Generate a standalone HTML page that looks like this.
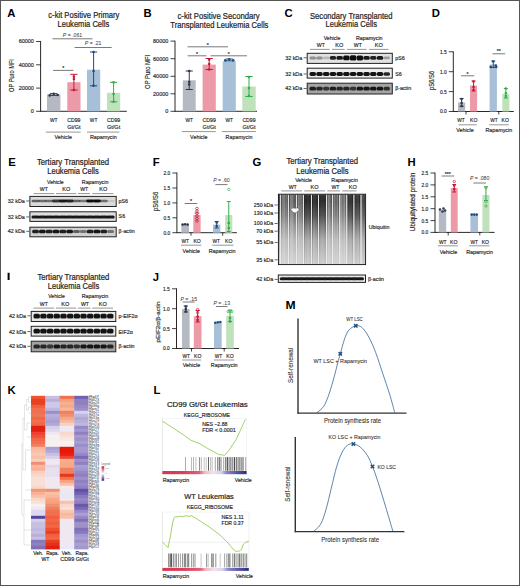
<!DOCTYPE html>
<html><head><meta charset="utf-8"><style>
html,body{margin:0;padding:0;background:#fff;}
body{width:520px;height:586px;overflow:hidden;}
svg{display:block;font-family:"Liberation Sans", sans-serif;}
</style></head><body>
<svg width="520" height="586" viewBox="0 0 520 586">
<defs>
<filter id="bl" x="-20%" y="-50%" width="140%" height="200%"><feGaussianBlur stdDeviation="0.55"/></filter>
<filter id="bl2" x="-20%" y="-5%" width="140%" height="110%"><feGaussianBlur stdDeviation="0.6"/></filter>
<linearGradient id="ubg" x1="0" y1="0" x2="0" y2="1"><stop offset="0" stop-color="#c4c4c4"/><stop offset="0.45" stop-color="#d6d6d6"/><stop offset="1" stop-color="#e0e0e0"/></linearGradient>
<linearGradient id="ulane" x1="0" y1="0" x2="0" y2="1"><stop offset="0" stop-color="#202020" stop-opacity="0.85"/><stop offset="0.1" stop-color="#202020" stop-opacity="0.9"/><stop offset="0.3" stop-color="#383838" stop-opacity="0.8"/><stop offset="0.45" stop-color="#505050" stop-opacity="0.63"/><stop offset="0.65" stop-color="#606060" stop-opacity="0.34"/><stop offset="1" stop-color="#808080" stop-opacity="0.17"/></linearGradient>
<linearGradient id="cbar" x1="0" y1="0" x2="1" y2="0"><stop offset="0" stop-color="#d43650"/><stop offset="0.25" stop-color="#d9405c"/><stop offset="0.44" stop-color="#e0607a"/><stop offset="0.5" stop-color="#f2b4c6"/><stop offset="0.6" stop-color="#eee4ee"/><stop offset="0.7" stop-color="#d4d0e8"/><stop offset="0.76" stop-color="#8c86c6"/><stop offset="0.88" stop-color="#5a56a8"/><stop offset="1" stop-color="#2c2c7c"/></linearGradient>
<linearGradient id="leg" x1="0" y1="0" x2="0" y2="1"><stop offset="0" stop-color="#c8102e"/><stop offset="0.5" stop-color="#ffffff"/><stop offset="1" stop-color="#3a1e78"/></linearGradient>
</defs>
<rect x="0" y="0" width="520" height="586" fill="#fff"/>
<text x="7.2" y="16.8" font-size="11.3" font-weight="bold" fill="#000">A</text>
<text x="83.85" y="18.4" font-size="8.3" stroke="#262626" stroke-width="0.22" text-anchor="middle" fill="#262626" textLength="71.1" lengthAdjust="spacingAndGlyphs">c-kit Positive Primary</text>
<text x="83.35" y="27.1" font-size="8.3" stroke="#262626" stroke-width="0.22" text-anchor="middle" fill="#262626" textLength="51.7" lengthAdjust="spacingAndGlyphs">Leukemia Cells</text>
<line x1="40.6" y1="41.1" x2="40.6" y2="111.7" stroke="#111" stroke-width="0.9"/>
<line x1="36.1" y1="41.5" x2="40.6" y2="41.5" stroke="#111" stroke-width="0.8"/>
<text x="33.9" y="43.44" font-size="5.4" stroke="#262626" stroke-width="0.16" text-anchor="end" fill="#262626" textLength="15.25" lengthAdjust="spacingAndGlyphs">60000</text>
<line x1="36.1" y1="64.8" x2="40.6" y2="64.8" stroke="#111" stroke-width="0.8"/>
<text x="33.9" y="66.74" font-size="5.4" stroke="#262626" stroke-width="0.16" text-anchor="end" fill="#262626" textLength="15.25" lengthAdjust="spacingAndGlyphs">40000</text>
<line x1="36.1" y1="88.1" x2="40.6" y2="88.1" stroke="#111" stroke-width="0.8"/>
<text x="33.9" y="90.04" font-size="5.4" stroke="#262626" stroke-width="0.16" text-anchor="end" fill="#262626" textLength="15.25" lengthAdjust="spacingAndGlyphs">20000</text>
<line x1="36.1" y1="111.3" x2="40.6" y2="111.3" stroke="#111" stroke-width="0.8"/>
<text x="33.9" y="113.24" font-size="5.4" stroke="#262626" stroke-width="0.16" text-anchor="end" fill="#262626" textLength="3.05" lengthAdjust="spacingAndGlyphs">0</text>
<line x1="40.6" y1="111.3" x2="126.8" y2="111.3" stroke="#111" stroke-width="0.9"/>
<text x="14" y="75.5" font-size="7.9" stroke="#262626" stroke-width="0.16" text-anchor="middle" fill="#262626" textLength="32.8" lengthAdjust="spacingAndGlyphs" transform="rotate(-90 14 75.5)">OP Puro MFI</text>
<rect x="47" y="94.4" width="13.4" height="16.9" fill="#b5bac2" />
<rect x="67.3" y="82.2" width="13.2" height="29.1" fill="#ec9aa8" />
<rect x="87" y="69.7" width="13.2" height="41.6" fill="#a7bfd7" />
<rect x="107" y="92.8" width="13.2" height="18.5" fill="#bfe1bb" />
<line x1="53.7" y1="93.6" x2="53.7" y2="95.4" stroke="#2f3b4d" stroke-width="1"/>
<line x1="50.02" y1="93.6" x2="57.39" y2="93.6" stroke="#2f3b4d" stroke-width="1"/>
<line x1="50.02" y1="95.4" x2="57.39" y2="95.4" stroke="#2f3b4d" stroke-width="1"/>
<circle cx="49.7" cy="95.4" r="1.3" fill="#2f3b4d"/>
<circle cx="53.7" cy="93.8" r="1.3" fill="#2f3b4d"/>
<circle cx="57.7" cy="95" r="1.3" fill="#2f3b4d"/>
<line x1="73.9" y1="74.3" x2="73.9" y2="90" stroke="#c6173a" stroke-width="1"/>
<line x1="70.27" y1="74.3" x2="77.53" y2="74.3" stroke="#c6173a" stroke-width="1"/>
<line x1="70.27" y1="90" x2="77.53" y2="90" stroke="#c6173a" stroke-width="1"/>
<circle cx="73.9" cy="76.5" r="1.3" fill="#c6173a"/>
<circle cx="73.9" cy="79" r="1.3" fill="#c6173a"/>
<circle cx="73.9" cy="90" r="1.3" fill="#c6173a"/>
<line x1="93.6" y1="52" x2="93.6" y2="85.8" stroke="#1e4e80" stroke-width="1"/>
<line x1="89.97" y1="52" x2="97.23" y2="52" stroke="#1e4e80" stroke-width="1"/>
<line x1="89.97" y1="85.8" x2="97.23" y2="85.8" stroke="#1e4e80" stroke-width="1"/>
<circle cx="93.6" cy="52" r="1.3" fill="#1e4e80"/>
<circle cx="93.6" cy="71" r="1.3" fill="#1e4e80"/>
<circle cx="93.6" cy="85.8" r="1.3" fill="#1e4e80"/>
<line x1="113.6" y1="82.3" x2="113.6" y2="101.8" stroke="#33ad4c" stroke-width="1"/>
<line x1="109.97" y1="82.3" x2="117.23" y2="82.3" stroke="#33ad4c" stroke-width="1"/>
<line x1="109.97" y1="101.8" x2="117.23" y2="101.8" stroke="#33ad4c" stroke-width="1"/>
<circle cx="113.6" cy="82.3" r="1.3" fill="#33ad4c"/>
<circle cx="113.6" cy="94" r="1.3" fill="#33ad4c"/>
<circle cx="113.6" cy="101.8" r="1.3" fill="#33ad4c"/>
<line x1="52.5" y1="38.8" x2="92.5" y2="38.8" stroke="#6b6b6b" stroke-width="0.9"/>
<text x="72.5" y="36.6" font-size="5.2" text-anchor="middle" fill="#333"><tspan font-style="italic">P</tspan> = .061</text>
<line x1="74.6" y1="47.5" x2="111.7" y2="47.5" stroke="#6b6b6b" stroke-width="0.9"/>
<text x="93.15" y="44.6" font-size="5.2" text-anchor="middle" fill="#333"><tspan font-style="italic">P</tspan> = .21</text>
<line x1="53" y1="70.4" x2="73.5" y2="70.4" stroke="#6b6b6b" stroke-width="0.9"/>
<text x="63.25" y="69.8" font-size="5.2" stroke="#262626" stroke-width="0.16" text-anchor="middle" fill="#262626">*</text>
<text x="53.7" y="122.3" font-size="5.6" stroke="#262626" stroke-width="0.16" text-anchor="middle" fill="#262626" textLength="7.5" lengthAdjust="spacingAndGlyphs">WT</text>
<text x="73.9" y="122.3" font-size="5.6" stroke="#262626" stroke-width="0.16" text-anchor="middle" fill="#262626" textLength="13.2" lengthAdjust="spacingAndGlyphs">CD99</text>
<text x="73.9" y="129.2" font-size="5.6" stroke="#262626" stroke-width="0.16" text-anchor="middle" fill="#262626" textLength="13.2" lengthAdjust="spacingAndGlyphs">Gt/Gt</text>
<text x="93.6" y="122.3" font-size="5.6" stroke="#262626" stroke-width="0.16" text-anchor="middle" fill="#262626" textLength="7.5" lengthAdjust="spacingAndGlyphs">WT</text>
<text x="113.6" y="122.3" font-size="5.6" stroke="#262626" stroke-width="0.16" text-anchor="middle" fill="#262626" textLength="13.2" lengthAdjust="spacingAndGlyphs">CD99</text>
<text x="113.6" y="129.2" font-size="5.6" stroke="#262626" stroke-width="0.16" text-anchor="middle" fill="#262626" textLength="13.2" lengthAdjust="spacingAndGlyphs">Gt/Gt</text>
<line x1="45.8" y1="132.1" x2="80.7" y2="132.1" stroke="#8a8a8a" stroke-width="0.9"/>
<line x1="87" y1="132.1" x2="119.3" y2="132.1" stroke="#8a8a8a" stroke-width="0.9"/>
<text x="63.2" y="138.5" font-size="5.6" stroke="#262626" stroke-width="0.16" text-anchor="middle" fill="#262626" textLength="17.4" lengthAdjust="spacingAndGlyphs">Vehicle</text>
<text x="103.3" y="138.5" font-size="5.6" stroke="#262626" stroke-width="0.16" text-anchor="middle" fill="#262626" textLength="26.8" lengthAdjust="spacingAndGlyphs">Rapamycin</text>
<text x="143.6" y="16.9" font-size="11.3" font-weight="bold" fill="#000">B</text>
<text x="218.6" y="19.2" font-size="8.3" stroke="#262626" stroke-width="0.22" text-anchor="middle" fill="#262626" textLength="82.2" lengthAdjust="spacingAndGlyphs">c-kit Positive Secondary</text>
<text x="219.35" y="27.9" font-size="8.3" stroke="#262626" stroke-width="0.22" text-anchor="middle" fill="#262626" textLength="98.1" lengthAdjust="spacingAndGlyphs">Transplanted Leukemia Cells</text>
<line x1="175" y1="40.7" x2="175" y2="111.7" stroke="#111" stroke-width="0.9"/>
<line x1="170.5" y1="41.1" x2="175" y2="41.1" stroke="#111" stroke-width="0.8"/>
<text x="168.3" y="43.04" font-size="5.4" stroke="#262626" stroke-width="0.16" text-anchor="end" fill="#262626" textLength="15.25" lengthAdjust="spacingAndGlyphs">80000</text>
<line x1="170.5" y1="58.7" x2="175" y2="58.7" stroke="#111" stroke-width="0.8"/>
<text x="168.3" y="60.64" font-size="5.4" stroke="#262626" stroke-width="0.16" text-anchor="end" fill="#262626" textLength="15.25" lengthAdjust="spacingAndGlyphs">60000</text>
<line x1="170.5" y1="76.3" x2="175" y2="76.3" stroke="#111" stroke-width="0.8"/>
<text x="168.3" y="78.24" font-size="5.4" stroke="#262626" stroke-width="0.16" text-anchor="end" fill="#262626" textLength="15.25" lengthAdjust="spacingAndGlyphs">40000</text>
<line x1="170.5" y1="93.8" x2="175" y2="93.8" stroke="#111" stroke-width="0.8"/>
<text x="168.3" y="95.74" font-size="5.4" stroke="#262626" stroke-width="0.16" text-anchor="end" fill="#262626" textLength="15.25" lengthAdjust="spacingAndGlyphs">20000</text>
<line x1="170.5" y1="111.3" x2="175" y2="111.3" stroke="#111" stroke-width="0.8"/>
<text x="168.3" y="113.24" font-size="5.4" stroke="#262626" stroke-width="0.16" text-anchor="end" fill="#262626" textLength="3.05" lengthAdjust="spacingAndGlyphs">0</text>
<line x1="175" y1="111.3" x2="257" y2="111.3" stroke="#111" stroke-width="0.9"/>
<text x="149.8" y="71.9" font-size="8" stroke="#262626" stroke-width="0.16" text-anchor="middle" fill="#262626" textLength="34" lengthAdjust="spacingAndGlyphs" transform="rotate(-90 149.8 71.9)">OP Puro MFI</text>
<rect x="182.8" y="80.3" width="12.9" height="31" fill="#b5bac2" />
<rect x="202.6" y="64.6" width="13.2" height="46.7" fill="#ec9aa8" />
<rect x="222.7" y="61.2" width="13.1" height="50.1" fill="#a7bfd7" />
<rect x="242.3" y="86.5" width="13.4" height="24.8" fill="#bfe1bb" />
<line x1="189.25" y1="71" x2="189.25" y2="89.5" stroke="#2f3b4d" stroke-width="1"/>
<line x1="185.7" y1="71" x2="192.8" y2="71" stroke="#2f3b4d" stroke-width="1"/>
<line x1="185.7" y1="89.5" x2="192.8" y2="89.5" stroke="#2f3b4d" stroke-width="1"/>
<circle cx="189.25" cy="71" r="1.3" fill="#2f3b4d"/>
<circle cx="189.25" cy="84.5" r="1.3" fill="#2f3b4d"/>
<circle cx="189.25" cy="82" r="1.3" fill="#2f3b4d"/>
<line x1="209.2" y1="58.5" x2="209.2" y2="69.5" stroke="#c6173a" stroke-width="1"/>
<line x1="205.57" y1="58.5" x2="212.83" y2="58.5" stroke="#c6173a" stroke-width="1"/>
<line x1="205.57" y1="69.5" x2="212.83" y2="69.5" stroke="#c6173a" stroke-width="1"/>
<circle cx="209.2" cy="59.5" r="1.3" fill="#c6173a"/>
<circle cx="209.2" cy="64" r="1.3" fill="#c6173a"/>
<circle cx="209.2" cy="69.5" r="1.3" fill="#c6173a"/>
<line x1="229.25" y1="59" x2="229.25" y2="60.8" stroke="#1e4e80" stroke-width="1"/>
<line x1="225.65" y1="59" x2="232.85" y2="59" stroke="#1e4e80" stroke-width="1"/>
<line x1="225.65" y1="60.8" x2="232.85" y2="60.8" stroke="#1e4e80" stroke-width="1"/>
<circle cx="225.25" cy="60.4" r="1.3" fill="#1e4e80"/>
<circle cx="229.25" cy="59.2" r="1.3" fill="#1e4e80"/>
<circle cx="233.25" cy="60.4" r="1.3" fill="#1e4e80"/>
<line x1="249" y1="76.5" x2="249" y2="96.5" stroke="#33ad4c" stroke-width="1"/>
<line x1="245.31" y1="76.5" x2="252.69" y2="76.5" stroke="#33ad4c" stroke-width="1"/>
<line x1="245.31" y1="96.5" x2="252.69" y2="96.5" stroke="#33ad4c" stroke-width="1"/>
<circle cx="249" cy="77" r="1.3" fill="#33ad4c"/>
<circle cx="249" cy="88" r="1.3" fill="#33ad4c"/>
<circle cx="249" cy="96" r="1.3" fill="#33ad4c"/>
<line x1="187.6" y1="46.8" x2="228" y2="46.8" stroke="#6b6b6b" stroke-width="0.9"/>
<text x="207.8" y="46.6" font-size="5.2" stroke="#262626" stroke-width="0.16" text-anchor="middle" fill="#262626">*</text>
<line x1="187.6" y1="55.8" x2="206.5" y2="55.8" stroke="#6b6b6b" stroke-width="0.9"/>
<text x="197.05" y="55.6" font-size="5.2" stroke="#262626" stroke-width="0.16" text-anchor="middle" fill="#262626">*</text>
<line x1="210.5" y1="55.8" x2="247" y2="55.8" stroke="#6b6b6b" stroke-width="0.9"/>
<text x="228.75" y="55.6" font-size="5.2" stroke="#262626" stroke-width="0.16" text-anchor="middle" fill="#262626">*</text>
<text x="189.3" y="122.3" font-size="5.6" stroke="#262626" stroke-width="0.16" text-anchor="middle" fill="#262626" textLength="7.5" lengthAdjust="spacingAndGlyphs">WT</text>
<text x="209.2" y="122.3" font-size="5.6" stroke="#262626" stroke-width="0.16" text-anchor="middle" fill="#262626" textLength="13.2" lengthAdjust="spacingAndGlyphs">CD99</text>
<text x="209.2" y="129.2" font-size="5.6" stroke="#262626" stroke-width="0.16" text-anchor="middle" fill="#262626" textLength="13.2" lengthAdjust="spacingAndGlyphs">Gt/Gt</text>
<text x="229.3" y="122.3" font-size="5.6" stroke="#262626" stroke-width="0.16" text-anchor="middle" fill="#262626" textLength="7.5" lengthAdjust="spacingAndGlyphs">WT</text>
<text x="249" y="122.3" font-size="5.6" stroke="#262626" stroke-width="0.16" text-anchor="middle" fill="#262626" textLength="13.2" lengthAdjust="spacingAndGlyphs">CD99</text>
<text x="249" y="129.2" font-size="5.6" stroke="#262626" stroke-width="0.16" text-anchor="middle" fill="#262626" textLength="13.2" lengthAdjust="spacingAndGlyphs">Gt/Gt</text>
<line x1="181.8" y1="131.6" x2="215.8" y2="131.6" stroke="#8a8a8a" stroke-width="0.9"/>
<line x1="222" y1="131.6" x2="256" y2="131.6" stroke="#8a8a8a" stroke-width="0.9"/>
<text x="198.8" y="138.6" font-size="5.6" stroke="#262626" stroke-width="0.16" text-anchor="middle" fill="#262626" textLength="17.4" lengthAdjust="spacingAndGlyphs">Vehicle</text>
<text x="239" y="138.6" font-size="5.6" stroke="#262626" stroke-width="0.16" text-anchor="middle" fill="#262626" textLength="26.8" lengthAdjust="spacingAndGlyphs">Rapamycin</text>
<text x="284.4" y="16.6" font-size="11.3" font-weight="bold" fill="#000">C</text>
<text x="351.3" y="19.2" font-size="8.3" stroke="#262626" stroke-width="0.22" text-anchor="middle" fill="#262626" textLength="82.6" lengthAdjust="spacingAndGlyphs">Secondary Transplanted</text>
<text x="351.25" y="27.2" font-size="8.3" stroke="#262626" stroke-width="0.22" text-anchor="middle" fill="#262626" textLength="51.5" lengthAdjust="spacingAndGlyphs">Leukemia Cells</text>
<text x="332" y="40.3" font-size="5.3" stroke="#262626" stroke-width="0.16" text-anchor="middle" fill="#262626" textLength="16.7" lengthAdjust="spacingAndGlyphs">Vehicle</text>
<text x="369.3" y="40.3" font-size="5.3" stroke="#262626" stroke-width="0.16" text-anchor="middle" fill="#262626" textLength="26.5" lengthAdjust="spacingAndGlyphs">Rapamycin</text>
<text x="320.8" y="47.4" font-size="5.3" stroke="#262626" stroke-width="0.16" text-anchor="middle" fill="#262626" textLength="8" lengthAdjust="spacingAndGlyphs">WT</text>
<text x="339.3" y="47.4" font-size="5.3" stroke="#262626" stroke-width="0.16" text-anchor="middle" fill="#262626" textLength="8" lengthAdjust="spacingAndGlyphs">KO</text>
<text x="357.8" y="47.4" font-size="5.3" stroke="#262626" stroke-width="0.16" text-anchor="middle" fill="#262626" textLength="8" lengthAdjust="spacingAndGlyphs">WT</text>
<text x="378.8" y="47.4" font-size="5.3" stroke="#262626" stroke-width="0.16" text-anchor="middle" fill="#262626" textLength="8" lengthAdjust="spacingAndGlyphs">KO</text>
<line x1="310" y1="49.4" x2="329.6" y2="49.4" stroke="#8a8a8a" stroke-width="0.9"/>
<line x1="332" y1="49.4" x2="344.6" y2="49.4" stroke="#8a8a8a" stroke-width="0.9"/>
<line x1="347" y1="49.4" x2="366.5" y2="49.4" stroke="#8a8a8a" stroke-width="0.9"/>
<line x1="369" y1="49.4" x2="388.5" y2="49.4" stroke="#8a8a8a" stroke-width="0.9"/>
<rect x="307.2" y="53.3" width="85.1" height="10.1" fill="#e2e2e2" />
<g filter="url(#bl)">
<rect x="309.53" y="56.39" width="6.46" height="3.03" rx="1.51" fill="#111" opacity="0.4"/>
<rect x="316.26" y="56.39" width="6.46" height="3.03" rx="1.51" fill="#111" opacity="0.4"/>
<rect x="322.98" y="56.52" width="6.46" height="2.76" rx="1.38" fill="#111" opacity="0.18"/>
<rect x="329.71" y="56.09" width="6.46" height="3.62" rx="1.6" fill="#111" opacity="0.9"/>
<rect x="336.43" y="56.06" width="6.46" height="3.68" rx="1.6" fill="#111" opacity="0.95"/>
<rect x="343.16" y="55.56" width="6.46" height="4.68" rx="1.6" fill="#111" opacity="1"/>
<rect x="349.88" y="55.28" width="6.46" height="5.24" rx="1.6" fill="#111" opacity="1"/>
<rect x="356.61" y="55.38" width="6.46" height="5.05" rx="1.6" fill="#111" opacity="1"/>
<rect x="363.33" y="56.06" width="6.46" height="3.68" rx="1.6" fill="#111" opacity="0.95"/>
<rect x="370.06" y="56.09" width="6.46" height="3.62" rx="1.6" fill="#111" opacity="0.9"/>
<rect x="376.78" y="56.06" width="6.46" height="3.68" rx="1.6" fill="#111" opacity="0.95"/>
<rect x="383.51" y="56.45" width="6.46" height="2.91" rx="1.45" fill="#111" opacity="0.3"/>
</g>
<rect x="307.2" y="53.3" width="85.1" height="10.1" fill="none" stroke="#222" stroke-width="1" />
<rect x="307.2" y="68.2" width="85.1" height="9.9" fill="#ececec" />
<g filter="url(#bl)">
<rect x="309.53" y="72.09" width="6.46" height="3.81" rx="1.6" fill="#111" opacity="0.97"/>
<rect x="316.26" y="72.09" width="6.46" height="3.81" rx="1.6" fill="#111" opacity="0.97"/>
<rect x="322.98" y="72.09" width="6.46" height="3.81" rx="1.6" fill="#111" opacity="0.97"/>
<rect x="329.71" y="72.09" width="6.46" height="3.81" rx="1.6" fill="#111" opacity="0.97"/>
<rect x="336.43" y="72.09" width="6.46" height="3.81" rx="1.6" fill="#111" opacity="0.97"/>
<rect x="343.16" y="72.09" width="6.46" height="3.81" rx="1.6" fill="#111" opacity="0.97"/>
<rect x="349.88" y="72.09" width="6.46" height="3.81" rx="1.6" fill="#111" opacity="0.97"/>
<rect x="356.61" y="72.09" width="6.46" height="3.81" rx="1.6" fill="#111" opacity="0.97"/>
<rect x="363.33" y="72.09" width="6.46" height="3.81" rx="1.6" fill="#111" opacity="0.97"/>
<rect x="370.06" y="72.09" width="6.46" height="3.81" rx="1.6" fill="#111" opacity="0.97"/>
<rect x="376.78" y="72.09" width="6.46" height="3.81" rx="1.6" fill="#111" opacity="0.97"/>
<rect x="383.51" y="72.14" width="6.46" height="3.73" rx="1.6" fill="#111" opacity="0.9"/>
</g>
<rect x="307.2" y="68.2" width="85.1" height="9.9" fill="none" stroke="#222" stroke-width="1" />
<rect x="307.2" y="83.2" width="85.1" height="10.8" fill="#a4a4a4" />
<g filter="url(#bl)">
<rect x="309.53" y="86.68" width="6.46" height="3.83" rx="1.6" fill="#111" opacity="0.9"/>
<rect x="316.26" y="86.71" width="6.46" height="3.77" rx="1.6" fill="#111" opacity="0.85"/>
<rect x="322.98" y="86.78" width="6.46" height="3.65" rx="1.6" fill="#111" opacity="0.75"/>
<rect x="329.71" y="86.68" width="6.46" height="3.83" rx="1.6" fill="#111" opacity="0.9"/>
<rect x="336.43" y="86.71" width="6.46" height="3.77" rx="1.6" fill="#111" opacity="0.85"/>
<rect x="343.16" y="86.71" width="6.46" height="3.77" rx="1.6" fill="#111" opacity="0.85"/>
<rect x="349.88" y="86.78" width="6.46" height="3.65" rx="1.6" fill="#111" opacity="0.75"/>
<rect x="356.61" y="86.65" width="6.46" height="3.9" rx="1.6" fill="#111" opacity="0.95"/>
<rect x="363.33" y="86.65" width="6.46" height="3.9" rx="1.6" fill="#111" opacity="0.95"/>
<rect x="370.06" y="86.65" width="6.46" height="3.9" rx="1.6" fill="#111" opacity="0.95"/>
<rect x="376.78" y="86.65" width="6.46" height="3.9" rx="1.6" fill="#111" opacity="0.95"/>
<rect x="383.51" y="86.75" width="6.46" height="3.71" rx="1.6" fill="#111" opacity="0.8"/>
</g>
<rect x="307.2" y="83.2" width="85.1" height="10.8" fill="none" stroke="#222" stroke-width="1" />
<text x="302.2" y="59.71" font-size="5.3" stroke="#262626" stroke-width="0.16" text-anchor="end" fill="#262626" textLength="17" lengthAdjust="spacingAndGlyphs">32 kDa</text>
<line x1="303.6" y1="57.8" x2="306.7" y2="57.8" stroke="#333" stroke-width="0.75"/>
<text x="302.2" y="75.91" font-size="5.3" stroke="#262626" stroke-width="0.16" text-anchor="end" fill="#262626" textLength="17" lengthAdjust="spacingAndGlyphs">32 kDa</text>
<line x1="303.6" y1="74" x2="306.7" y2="74" stroke="#333" stroke-width="0.75"/>
<text x="302.2" y="90.41" font-size="5.3" stroke="#262626" stroke-width="0.16" text-anchor="end" fill="#262626" textLength="17" lengthAdjust="spacingAndGlyphs">42 kDa</text>
<line x1="303.6" y1="88.5" x2="306.7" y2="88.5" stroke="#333" stroke-width="0.75"/>
<text x="395.2" y="59.8" font-size="5.3" stroke="#262626" stroke-width="0.16" fill="#262626">pS6</text>
<text x="395.2" y="75.9" font-size="5.3" stroke="#262626" stroke-width="0.16" fill="#262626">S6</text>
<text x="395.2" y="90.4" font-size="5.3" stroke="#262626" stroke-width="0.16" fill="#262626">β-actin</text>
<text x="431.8" y="16.9" font-size="11.3" font-weight="bold" fill="#000">D</text>
<line x1="453.3" y1="51.4" x2="453.3" y2="111.9" stroke="#111" stroke-width="0.9"/>
<line x1="448.8" y1="51.8" x2="453.3" y2="51.8" stroke="#111" stroke-width="0.8"/>
<text x="446.6" y="53.74" font-size="5.4" stroke="#262626" stroke-width="0.16" text-anchor="end" fill="#262626" textLength="6.7" lengthAdjust="spacingAndGlyphs">1.5</text>
<line x1="448.8" y1="71.7" x2="453.3" y2="71.7" stroke="#111" stroke-width="0.8"/>
<text x="446.6" y="73.64" font-size="5.4" stroke="#262626" stroke-width="0.16" text-anchor="end" fill="#262626" textLength="6.7" lengthAdjust="spacingAndGlyphs">1.0</text>
<line x1="448.8" y1="91.6" x2="453.3" y2="91.6" stroke="#111" stroke-width="0.8"/>
<text x="446.6" y="93.54" font-size="5.4" stroke="#262626" stroke-width="0.16" text-anchor="end" fill="#262626" textLength="6.7" lengthAdjust="spacingAndGlyphs">0.5</text>
<line x1="448.8" y1="111.5" x2="453.3" y2="111.5" stroke="#111" stroke-width="0.8"/>
<text x="446.6" y="113.44" font-size="5.4" stroke="#262626" stroke-width="0.16" text-anchor="end" fill="#262626" textLength="6.7" lengthAdjust="spacingAndGlyphs">0.0</text>
<line x1="453.3" y1="111.5" x2="513.8" y2="111.5" stroke="#111" stroke-width="0.9"/>
<line x1="466" y1="111.5" x2="466" y2="114.5" stroke="#111" stroke-width="0.8"/>
<line x1="498.8" y1="111.5" x2="498.8" y2="114.5" stroke="#111" stroke-width="0.8"/>
<text x="434.1" y="80.5" font-size="7.4" stroke="#262626" stroke-width="0.16" text-anchor="middle" fill="#262626" textLength="19.2" lengthAdjust="spacingAndGlyphs" transform="rotate(-90 434.1 80.5)">pS6/S6</text>
<rect x="458" y="102.5" width="7.2" height="9" fill="#b5bac2" />
<rect x="470" y="85.6" width="7.1" height="25.9" fill="#ec9aa8" />
<rect x="489.6" y="64.4" width="7.3" height="47.1" fill="#a7bfd7" />
<rect x="502.3" y="93.8" width="7.1" height="17.7" fill="#bfe1bb" />
<line x1="461.6" y1="98.5" x2="461.6" y2="106.5" stroke="#2f3b4d" stroke-width="1"/>
<line x1="459.62" y1="98.5" x2="463.58" y2="98.5" stroke="#2f3b4d" stroke-width="1"/>
<line x1="459.62" y1="106.5" x2="463.58" y2="106.5" stroke="#2f3b4d" stroke-width="1"/>
<circle cx="461.6" cy="99" r="1.3" fill="#2f3b4d"/>
<circle cx="461.6" cy="103" r="1.3" fill="#2f3b4d"/>
<circle cx="461.6" cy="106" r="1.3" fill="#2f3b4d"/>
<line x1="473.55" y1="81" x2="473.55" y2="91" stroke="#c6173a" stroke-width="1"/>
<line x1="471.6" y1="81" x2="475.5" y2="81" stroke="#c6173a" stroke-width="1"/>
<line x1="471.6" y1="91" x2="475.5" y2="91" stroke="#c6173a" stroke-width="1"/>
<circle cx="473.55" cy="81.5" r="1.3" fill="#c6173a"/>
<circle cx="473.55" cy="87" r="1.3" fill="#c6173a"/>
<circle cx="473.55" cy="90" r="1.3" fill="#c6173a"/>
<line x1="493.25" y1="61" x2="493.25" y2="67.5" stroke="#1e4e80" stroke-width="1"/>
<line x1="491.24" y1="61" x2="495.26" y2="61" stroke="#1e4e80" stroke-width="1"/>
<line x1="491.24" y1="67.5" x2="495.26" y2="67.5" stroke="#1e4e80" stroke-width="1"/>
<circle cx="490.75" cy="67" r="1.3" fill="#1e4e80"/>
<circle cx="493.25" cy="61.5" r="1.3" fill="#1e4e80"/>
<circle cx="495.75" cy="65.5" r="1.3" fill="#1e4e80"/>
<circle cx="496.25" cy="67" r="1.3" fill="#1e4e80"/>
<line x1="505.85" y1="88.5" x2="505.85" y2="98" stroke="#33ad4c" stroke-width="1"/>
<line x1="503.9" y1="88.5" x2="507.8" y2="88.5" stroke="#33ad4c" stroke-width="1"/>
<line x1="503.9" y1="98" x2="507.8" y2="98" stroke="#33ad4c" stroke-width="1"/>
<circle cx="505.85" cy="88.5" r="1.3" fill="#33ad4c"/>
<circle cx="505.85" cy="93" r="1.3" fill="#33ad4c"/>
<circle cx="505.85" cy="96" r="1.3" fill="#33ad4c"/>
<line x1="461" y1="75.8" x2="474.2" y2="75.8" stroke="#6b6b6b" stroke-width="0.9"/>
<text x="467.6" y="75.5" font-size="5.2" stroke="#262626" stroke-width="0.16" text-anchor="middle" fill="#262626">*</text>
<line x1="492.5" y1="53.8" x2="505.2" y2="53.8" stroke="#6b6b6b" stroke-width="0.9"/>
<text x="498.85" y="53.3" font-size="5.2" stroke="#262626" stroke-width="0.16" text-anchor="middle" fill="#262626">**</text>
<text x="461" y="122.4" font-size="5.8" stroke="#262626" stroke-width="0.16" text-anchor="middle" fill="#262626" textLength="7.5" lengthAdjust="spacingAndGlyphs">WT</text>
<text x="473.8" y="122.4" font-size="5.8" stroke="#262626" stroke-width="0.16" text-anchor="middle" fill="#262626" textLength="7.4" lengthAdjust="spacingAndGlyphs">KO</text>
<text x="494" y="122.4" font-size="5.8" stroke="#262626" stroke-width="0.16" text-anchor="middle" fill="#262626" textLength="7.5" lengthAdjust="spacingAndGlyphs">WT</text>
<text x="505.2" y="122.4" font-size="5.8" stroke="#262626" stroke-width="0.16" text-anchor="middle" fill="#262626" textLength="7.4" lengthAdjust="spacingAndGlyphs">KO</text>
<line x1="458.5" y1="124.8" x2="476.7" y2="124.8" stroke="#8a8a8a" stroke-width="0.9"/>
<line x1="489.2" y1="124.8" x2="508.8" y2="124.8" stroke="#8a8a8a" stroke-width="0.9"/>
<text x="465" y="131.8" font-size="5.6" stroke="#262626" stroke-width="0.16" text-anchor="middle" fill="#262626" textLength="17.4" lengthAdjust="spacingAndGlyphs">Vehicle</text>
<text x="498.8" y="131.8" font-size="5.6" stroke="#262626" stroke-width="0.16" text-anchor="middle" fill="#262626" textLength="26.8" lengthAdjust="spacingAndGlyphs">Rapamycin</text>
<text x="8.3" y="165.8" font-size="11.3" font-weight="bold" fill="#000">E</text>
<text x="72.95" y="164.6" font-size="8.3" stroke="#262626" stroke-width="0.22" text-anchor="middle" fill="#262626" textLength="72.1" lengthAdjust="spacingAndGlyphs">Tertiary Transplanted</text>
<text x="73.05" y="173.6" font-size="8.3" stroke="#262626" stroke-width="0.22" text-anchor="middle" fill="#262626" textLength="51.5" lengthAdjust="spacingAndGlyphs">Leukemia Cells</text>
<text x="55.4" y="183.9" font-size="5.3" stroke="#262626" stroke-width="0.16" text-anchor="middle" fill="#262626" textLength="16.7" lengthAdjust="spacingAndGlyphs">Vehicle</text>
<text x="95.1" y="183.9" font-size="5.3" stroke="#262626" stroke-width="0.16" text-anchor="middle" fill="#262626" textLength="26.5" lengthAdjust="spacingAndGlyphs">Rapamycin</text>
<text x="43.8" y="191.3" font-size="5.3" stroke="#262626" stroke-width="0.16" text-anchor="middle" fill="#262626" textLength="8" lengthAdjust="spacingAndGlyphs">WT</text>
<text x="66.2" y="191.3" font-size="5.3" stroke="#262626" stroke-width="0.16" text-anchor="middle" fill="#262626" textLength="8" lengthAdjust="spacingAndGlyphs">KO</text>
<text x="84.2" y="191.3" font-size="5.3" stroke="#262626" stroke-width="0.16" text-anchor="middle" fill="#262626" textLength="8" lengthAdjust="spacingAndGlyphs">WT</text>
<text x="103.2" y="191.3" font-size="5.3" stroke="#262626" stroke-width="0.16" text-anchor="middle" fill="#262626" textLength="8" lengthAdjust="spacingAndGlyphs">KO</text>
<line x1="33.5" y1="193.6" x2="54.2" y2="193.6" stroke="#8a8a8a" stroke-width="0.9"/>
<line x1="56" y1="193.6" x2="76.2" y2="193.6" stroke="#8a8a8a" stroke-width="0.9"/>
<line x1="78" y1="193.6" x2="90" y2="193.6" stroke="#8a8a8a" stroke-width="0.9"/>
<line x1="92.3" y1="193.6" x2="113.5" y2="193.6" stroke="#8a8a8a" stroke-width="0.9"/>
<rect x="29.9" y="196.4" width="86.3" height="10.1" fill="#dadada" />
<g filter="url(#bl)">
<rect x="31.59" y="199.7" width="7.85" height="2.59" rx="1.3" fill="#111" opacity="0.6"/>
<rect x="38.41" y="199.73" width="7.85" height="2.54" rx="1.27" fill="#111" opacity="0.55"/>
<rect x="45.24" y="199.73" width="7.85" height="2.54" rx="1.27" fill="#111" opacity="0.55"/>
<rect x="52.06" y="199.61" width="7.85" height="2.78" rx="1.39" fill="#111" opacity="0.8"/>
<rect x="58.89" y="199.54" width="7.85" height="2.92" rx="1.46" fill="#111" opacity="0.95"/>
<rect x="65.71" y="199.56" width="7.85" height="2.88" rx="1.44" fill="#111" opacity="0.9"/>
<rect x="72.54" y="199.7" width="7.85" height="2.59" rx="1.3" fill="#111" opacity="0.6"/>
<rect x="79.36" y="199.75" width="7.85" height="2.5" rx="1.25" fill="#111" opacity="0.5"/>
<rect x="86.19" y="199.51" width="7.85" height="2.97" rx="1.49" fill="#111" opacity="1"/>
<rect x="93.01" y="199.51" width="7.85" height="2.97" rx="1.49" fill="#111" opacity="1"/>
<rect x="99.84" y="199.73" width="7.85" height="2.54" rx="1.27" fill="#111" opacity="0.55"/>
<rect x="106.66" y="199.94" width="7.85" height="2.12" rx="1.06" fill="#111" opacity="0.1"/>
</g>
<rect x="29.9" y="196.4" width="86.3" height="10.1" fill="none" stroke="#222" stroke-width="1" />
<rect x="29.9" y="211.8" width="86.3" height="9.6" fill="#dedede" />
<g filter="url(#bl)">
<rect x="31.42" y="215.48" width="8.19" height="3.03" rx="1.52" fill="#111" opacity="0.95"/>
<rect x="38.24" y="215.48" width="8.19" height="3.03" rx="1.52" fill="#111" opacity="0.95"/>
<rect x="45.07" y="215.48" width="8.19" height="3.03" rx="1.52" fill="#111" opacity="0.95"/>
<rect x="51.89" y="215.48" width="8.19" height="3.03" rx="1.52" fill="#111" opacity="0.95"/>
<rect x="58.72" y="215.48" width="8.19" height="3.03" rx="1.52" fill="#111" opacity="0.95"/>
<rect x="65.54" y="215.48" width="8.19" height="3.03" rx="1.52" fill="#111" opacity="0.95"/>
<rect x="72.37" y="215.48" width="8.19" height="3.03" rx="1.52" fill="#111" opacity="0.95"/>
<rect x="79.19" y="215.48" width="8.19" height="3.03" rx="1.52" fill="#111" opacity="0.95"/>
<rect x="86.02" y="215.48" width="8.19" height="3.03" rx="1.52" fill="#111" opacity="0.95"/>
<rect x="92.84" y="215.48" width="8.19" height="3.03" rx="1.52" fill="#111" opacity="0.95"/>
<rect x="99.67" y="215.48" width="8.19" height="3.03" rx="1.52" fill="#111" opacity="0.95"/>
<rect x="106.49" y="215.48" width="8.19" height="3.03" rx="1.52" fill="#111" opacity="0.95"/>
</g>
<rect x="29.9" y="211.8" width="86.3" height="9.6" fill="none" stroke="#222" stroke-width="1" />
<rect x="29.9" y="227.2" width="86.3" height="9.6" fill="#d0d0d0" />
<g filter="url(#bl)">
<rect x="32.1" y="229.74" width="6.83" height="3.51" rx="1.6" fill="#111" opacity="0.9"/>
<rect x="38.93" y="229.71" width="6.83" height="3.57" rx="1.6" fill="#111" opacity="0.95"/>
<rect x="45.75" y="229.74" width="6.83" height="3.51" rx="1.6" fill="#111" opacity="0.9"/>
<rect x="52.57" y="229.71" width="6.83" height="3.57" rx="1.6" fill="#111" opacity="0.95"/>
<rect x="59.4" y="229.74" width="6.83" height="3.51" rx="1.6" fill="#111" opacity="0.9"/>
<rect x="66.23" y="229.71" width="6.83" height="3.57" rx="1.6" fill="#111" opacity="0.95"/>
<rect x="73.05" y="229.92" width="6.83" height="3.17" rx="1.58" fill="#111" opacity="0.6"/>
<rect x="79.88" y="229.97" width="6.83" height="3.05" rx="1.53" fill="#111" opacity="0.5"/>
<rect x="86.7" y="229.74" width="6.83" height="3.51" rx="1.6" fill="#111" opacity="0.9"/>
<rect x="93.53" y="229.71" width="6.83" height="3.57" rx="1.6" fill="#111" opacity="0.95"/>
<rect x="100.35" y="229.74" width="6.83" height="3.51" rx="1.6" fill="#111" opacity="0.9"/>
<rect x="107.18" y="229.97" width="6.83" height="3.05" rx="1.53" fill="#111" opacity="0.5"/>
</g>
<rect x="29.9" y="227.2" width="86.3" height="9.6" fill="none" stroke="#222" stroke-width="1" />
<text x="24.8" y="202.91" font-size="5.3" stroke="#262626" stroke-width="0.16" text-anchor="end" fill="#262626" textLength="17" lengthAdjust="spacingAndGlyphs">32 kDa</text>
<line x1="26.2" y1="201" x2="29.3" y2="201" stroke="#333" stroke-width="0.75"/>
<text x="24.8" y="218.81" font-size="5.3" stroke="#262626" stroke-width="0.16" text-anchor="end" fill="#262626" textLength="17" lengthAdjust="spacingAndGlyphs">32 kDa</text>
<line x1="26.2" y1="216.9" x2="29.3" y2="216.9" stroke="#333" stroke-width="0.75"/>
<text x="24.8" y="233.21" font-size="5.3" stroke="#262626" stroke-width="0.16" text-anchor="end" fill="#262626" textLength="17" lengthAdjust="spacingAndGlyphs">42 kDa</text>
<line x1="26.2" y1="231.3" x2="29.3" y2="231.3" stroke="#333" stroke-width="0.75"/>
<text x="118.6" y="203" font-size="5.3" stroke="#262626" stroke-width="0.16" fill="#262626">pS6</text>
<text x="118.6" y="218.2" font-size="5.3" stroke="#262626" stroke-width="0.16" fill="#262626">S6</text>
<text x="118.6" y="233.3" font-size="5.3" stroke="#262626" stroke-width="0.16" fill="#262626">β-actin</text>
<text x="152.8" y="166" font-size="11.3" font-weight="bold" fill="#000">F</text>
<line x1="176.9" y1="172.6" x2="176.9" y2="233.1" stroke="#111" stroke-width="0.9"/>
<line x1="172.4" y1="173" x2="176.9" y2="173" stroke="#111" stroke-width="0.8"/>
<text x="170.2" y="174.94" font-size="5.4" stroke="#262626" stroke-width="0.16" text-anchor="end" fill="#262626" textLength="6.7" lengthAdjust="spacingAndGlyphs">2.0</text>
<line x1="172.4" y1="188" x2="176.9" y2="188" stroke="#111" stroke-width="0.8"/>
<text x="170.2" y="189.94" font-size="5.4" stroke="#262626" stroke-width="0.16" text-anchor="end" fill="#262626" textLength="6.7" lengthAdjust="spacingAndGlyphs">1.5</text>
<line x1="172.4" y1="202.9" x2="176.9" y2="202.9" stroke="#111" stroke-width="0.8"/>
<text x="170.2" y="204.84" font-size="5.4" stroke="#262626" stroke-width="0.16" text-anchor="end" fill="#262626" textLength="6.7" lengthAdjust="spacingAndGlyphs">1.0</text>
<line x1="172.4" y1="217.8" x2="176.9" y2="217.8" stroke="#111" stroke-width="0.8"/>
<text x="170.2" y="219.74" font-size="5.4" stroke="#262626" stroke-width="0.16" text-anchor="end" fill="#262626" textLength="6.7" lengthAdjust="spacingAndGlyphs">0.5</text>
<line x1="172.4" y1="232.7" x2="176.9" y2="232.7" stroke="#111" stroke-width="0.8"/>
<text x="170.2" y="234.64" font-size="5.4" stroke="#262626" stroke-width="0.16" text-anchor="end" fill="#262626" textLength="6.7" lengthAdjust="spacingAndGlyphs">0.0</text>
<line x1="176.9" y1="232.7" x2="236.9" y2="232.7" stroke="#111" stroke-width="0.9"/>
<line x1="191" y1="232.7" x2="191" y2="235.7" stroke="#111" stroke-width="0.8"/>
<line x1="222.7" y1="232.7" x2="222.7" y2="235.7" stroke="#111" stroke-width="0.8"/>
<text x="158.1" y="201.4" font-size="7.4" stroke="#262626" stroke-width="0.16" text-anchor="middle" fill="#262626" textLength="19.1" lengthAdjust="spacingAndGlyphs" transform="rotate(-90 158.1 201.4)">pS6/S6</text>
<rect x="181.3" y="224.6" width="7.7" height="8.1" fill="#b5bac2" />
<rect x="193.3" y="215" width="7.3" height="17.7" fill="#ec9aa8" />
<rect x="213" y="224.6" width="7.4" height="8.1" fill="#a7bfd7" />
<rect x="225.2" y="215" width="7.1" height="17.7" fill="#bfe1bb" />
<circle cx="182.65" cy="224.6" r="1.3" fill="#2f3b4d"/>
<circle cx="185.15" cy="224.2" r="1.3" fill="#2f3b4d"/>
<circle cx="187.65" cy="224.6" r="1.3" fill="#2f3b4d"/>
<line x1="216.7" y1="221.5" x2="216.7" y2="228" stroke="#1e4e80" stroke-width="1"/>
<line x1="214.66" y1="221.5" x2="218.73" y2="221.5" stroke="#1e4e80" stroke-width="1"/>
<line x1="214.66" y1="228" x2="218.73" y2="228" stroke="#1e4e80" stroke-width="1"/>
<circle cx="216.7" cy="222.5" r="1.3" fill="#1e4e80"/>
<circle cx="216.7" cy="226" r="1.3" fill="#1e4e80"/>
<line x1="228.75" y1="201.5" x2="228.75" y2="231.5" stroke="#33ad4c" stroke-width="1"/>
<line x1="226.8" y1="201.5" x2="230.7" y2="201.5" stroke="#33ad4c" stroke-width="1"/>
<line x1="226.8" y1="231.5" x2="230.7" y2="231.5" stroke="#33ad4c" stroke-width="1"/>
<circle cx="228.75" cy="223" r="1.3" fill="#33ad4c"/>
<circle cx="228.75" cy="228" r="1.3" fill="#33ad4c"/>
<circle cx="196.95" cy="208.5" r="1.3" fill="none" stroke="#c6173a" stroke-width="0.7"/>
<circle cx="196.95" cy="211" r="1.3" fill="none" stroke="#c6173a" stroke-width="0.7"/>
<circle cx="196.95" cy="213.5" r="1.3" fill="none" stroke="#c6173a" stroke-width="0.7"/>
<circle cx="196.95" cy="216" r="1.3" fill="none" stroke="#c6173a" stroke-width="0.7"/>
<circle cx="196.95" cy="218.5" r="1.3" fill="none" stroke="#c6173a" stroke-width="0.7"/>
<circle cx="196.95" cy="221" r="1.3" fill="none" stroke="#c6173a" stroke-width="0.7"/>
<line x1="194.5" y1="213" x2="199.4" y2="213" stroke="#c6173a" stroke-width="0.8"/>
<circle cx="228.8" cy="189.4" r="1.2" fill="none" stroke="#33ad4c" stroke-width="0.7"/>
<line x1="184.6" y1="203.5" x2="197.3" y2="203.5" stroke="#6b6b6b" stroke-width="0.9"/>
<text x="190.95" y="203.4" font-size="5.2" stroke="#262626" stroke-width="0.16" text-anchor="middle" fill="#262626">*</text>
<line x1="215.4" y1="184.6" x2="227.5" y2="184.6" stroke="#6b6b6b" stroke-width="0.9"/>
<text x="221.45" y="181.6" font-size="5.2" text-anchor="middle" fill="#333"><tspan font-style="italic">P</tspan> = .60</text>
<text x="185.2" y="243.3" font-size="5.8" stroke="#262626" stroke-width="0.16" text-anchor="middle" fill="#262626" textLength="7.5" lengthAdjust="spacingAndGlyphs">WT</text>
<text x="197.1" y="243.3" font-size="5.8" stroke="#262626" stroke-width="0.16" text-anchor="middle" fill="#262626" textLength="7.4" lengthAdjust="spacingAndGlyphs">KO</text>
<text x="216.3" y="243.3" font-size="5.8" stroke="#262626" stroke-width="0.16" text-anchor="middle" fill="#262626" textLength="7.5" lengthAdjust="spacingAndGlyphs">WT</text>
<text x="228.8" y="243.3" font-size="5.8" stroke="#262626" stroke-width="0.16" text-anchor="middle" fill="#262626" textLength="7.4" lengthAdjust="spacingAndGlyphs">KO</text>
<line x1="181" y1="245.2" x2="201.3" y2="245.2" stroke="#8a8a8a" stroke-width="0.9"/>
<line x1="212.3" y1="245.2" x2="233.5" y2="245.2" stroke="#8a8a8a" stroke-width="0.9"/>
<text x="191.3" y="252.8" font-size="5.6" stroke="#262626" stroke-width="0.16" text-anchor="middle" fill="#262626" textLength="17.4" lengthAdjust="spacingAndGlyphs">Vehicle</text>
<text x="222.1" y="252.8" font-size="5.6" stroke="#262626" stroke-width="0.16" text-anchor="middle" fill="#262626" textLength="26.8" lengthAdjust="spacingAndGlyphs">Rapamycin</text>
<text x="252.6" y="165.7" font-size="11.3" font-weight="bold" fill="#000">G</text>
<text x="322.25" y="164.4" font-size="8.3" stroke="#262626" stroke-width="0.22" text-anchor="middle" fill="#262626" textLength="71.5" lengthAdjust="spacingAndGlyphs">Tertiary Transplanted</text>
<text x="322.35" y="173.8" font-size="8.3" stroke="#262626" stroke-width="0.22" text-anchor="middle" fill="#262626" textLength="52.3" lengthAdjust="spacingAndGlyphs">Leukemia Cells</text>
<text x="303.5" y="182" font-size="5.3" stroke="#262626" stroke-width="0.16" text-anchor="middle" fill="#262626" textLength="16.7" lengthAdjust="spacingAndGlyphs">Vehicle</text>
<text x="344.6" y="182" font-size="5.3" stroke="#262626" stroke-width="0.16" text-anchor="middle" fill="#262626" textLength="26.5" lengthAdjust="spacingAndGlyphs">Rapamycin</text>
<text x="292.7" y="189" font-size="5.3" stroke="#262626" stroke-width="0.16" text-anchor="middle" fill="#262626" textLength="8" lengthAdjust="spacingAndGlyphs">WT</text>
<text x="314.6" y="189" font-size="5.3" stroke="#262626" stroke-width="0.16" text-anchor="middle" fill="#262626" textLength="8" lengthAdjust="spacingAndGlyphs">KO</text>
<text x="335.4" y="189" font-size="5.3" stroke="#262626" stroke-width="0.16" text-anchor="middle" fill="#262626" textLength="8" lengthAdjust="spacingAndGlyphs">WT</text>
<text x="352.7" y="189" font-size="5.3" stroke="#262626" stroke-width="0.16" text-anchor="middle" fill="#262626" textLength="8" lengthAdjust="spacingAndGlyphs">KO</text>
<line x1="281.2" y1="190.9" x2="302" y2="190.9" stroke="#8a8a8a" stroke-width="0.9"/>
<line x1="304.2" y1="190.9" x2="325" y2="190.9" stroke="#8a8a8a" stroke-width="0.9"/>
<line x1="327.3" y1="190.9" x2="340" y2="190.9" stroke="#8a8a8a" stroke-width="0.9"/>
<line x1="342.3" y1="190.9" x2="356.6" y2="190.9" stroke="#8a8a8a" stroke-width="0.9"/>
<rect x="278.4" y="194.2" width="87.2" height="70.4" fill="url(#ubg)" />
<g filter="url(#bl2)">
<rect x="279.2" y="194.7" width="0.6" height="69.4" fill="url(#ulane)" opacity="0.3"/>
<rect x="279.2" y="194.7" width="1.0" height="69.4" fill="url(#ulane)" opacity="0.44"/>
<rect x="278.6" y="194.7" width="1.2" height="69.4" fill="url(#ulane)" opacity="0.49"/>
<rect x="278.89" y="194.7" width="0.7" height="69.4" fill="url(#ulane)" opacity="0.42"/>
<rect x="278.39" y="194.7" width="0.7" height="69.4" fill="url(#ulane)" opacity="0.48"/>
<rect x="281" y="194.7" width="6.8" height="69.4" fill="url(#ulane)" opacity="0.45"/>
<rect x="281" y="194.7" width="1.0" height="69.4" fill="url(#ulane)" opacity="0.56"/>
<rect x="286.6" y="194.7" width="1.2" height="69.4" fill="url(#ulane)" opacity="0.61"/>
<rect x="284.94" y="194.7" width="0.7" height="69.4" fill="url(#ulane)" opacity="0.48"/>
<rect x="282.6" y="194.7" width="0.7" height="69.4" fill="url(#ulane)" opacity="0.34"/>
<rect x="289" y="194.7" width="6.8" height="69.4" fill="url(#ulane)" opacity="0.5"/>
<rect x="289" y="194.7" width="1.0" height="69.4" fill="url(#ulane)" opacity="0.6"/>
<rect x="294.6" y="194.7" width="1.2" height="69.4" fill="url(#ulane)" opacity="0.65"/>
<rect x="293.61" y="194.7" width="0.7" height="69.4" fill="url(#ulane)" opacity="0.39"/>
<rect x="293.47" y="194.7" width="0.7" height="69.4" fill="url(#ulane)" opacity="0.23"/>
<rect x="297" y="194.7" width="5.8" height="69.4" fill="url(#ulane)" opacity="0.45"/>
<rect x="297" y="194.7" width="1.0" height="69.4" fill="url(#ulane)" opacity="0.56"/>
<rect x="301.6" y="194.7" width="1.2" height="69.4" fill="url(#ulane)" opacity="0.61"/>
<rect x="299.58" y="194.7" width="0.7" height="69.4" fill="url(#ulane)" opacity="0.27"/>
<rect x="299.75" y="194.7" width="0.7" height="69.4" fill="url(#ulane)" opacity="0.37"/>
<rect x="304" y="194.7" width="6.8" height="69.4" fill="url(#ulane)" opacity="1"/>
<rect x="304" y="194.7" width="1.0" height="69.4" fill="url(#ulane)" opacity="1"/>
<rect x="309.6" y="194.7" width="1.2" height="69.4" fill="url(#ulane)" opacity="1"/>
<rect x="305.54" y="194.7" width="0.7" height="69.4" fill="url(#ulane)" opacity="0.27"/>
<rect x="306.42" y="194.7" width="0.7" height="69.4" fill="url(#ulane)" opacity="0.47"/>
<rect x="312" y="194.7" width="5.9" height="69.4" fill="url(#ulane)" opacity="0.95"/>
<rect x="312" y="194.7" width="1.0" height="69.4" fill="url(#ulane)" opacity="0.96"/>
<rect x="316.7" y="194.7" width="1.2" height="69.4" fill="url(#ulane)" opacity="1"/>
<rect x="315.34" y="194.7" width="0.7" height="69.4" fill="url(#ulane)" opacity="0.25"/>
<rect x="315.41" y="194.7" width="0.7" height="69.4" fill="url(#ulane)" opacity="0.24"/>
<rect x="319.1" y="194.7" width="6.7" height="69.4" fill="url(#ulane)" opacity="1"/>
<rect x="319.1" y="194.7" width="1.0" height="69.4" fill="url(#ulane)" opacity="1"/>
<rect x="324.6" y="194.7" width="1.2" height="69.4" fill="url(#ulane)" opacity="1"/>
<rect x="322.58" y="194.7" width="0.7" height="69.4" fill="url(#ulane)" opacity="0.24"/>
<rect x="320.61" y="194.7" width="0.7" height="69.4" fill="url(#ulane)" opacity="0.46"/>
<rect x="327" y="194.7" width="5" height="69.4" fill="url(#ulane)" opacity="0.4"/>
<rect x="327" y="194.7" width="1.0" height="69.4" fill="url(#ulane)" opacity="0.52"/>
<rect x="330.8" y="194.7" width="1.2" height="69.4" fill="url(#ulane)" opacity="0.57"/>
<rect x="328.81" y="194.7" width="0.7" height="69.4" fill="url(#ulane)" opacity="0.26"/>
<rect x="329.97" y="194.7" width="0.7" height="69.4" fill="url(#ulane)" opacity="0.46"/>
<rect x="333.2" y="194.7" width="5.9" height="69.4" fill="url(#ulane)" opacity="0.45"/>
<rect x="333.2" y="194.7" width="1.0" height="69.4" fill="url(#ulane)" opacity="0.56"/>
<rect x="337.9" y="194.7" width="1.2" height="69.4" fill="url(#ulane)" opacity="0.61"/>
<rect x="335.39" y="194.7" width="0.7" height="69.4" fill="url(#ulane)" opacity="0.49"/>
<rect x="335.99" y="194.7" width="0.7" height="69.4" fill="url(#ulane)" opacity="0.4"/>
<rect x="340.3" y="194.7" width="5.9" height="69.4" fill="url(#ulane)" opacity="0.35"/>
<rect x="340.3" y="194.7" width="1.0" height="69.4" fill="url(#ulane)" opacity="0.48"/>
<rect x="345" y="194.7" width="1.2" height="69.4" fill="url(#ulane)" opacity="0.53"/>
<rect x="342.29" y="194.7" width="0.7" height="69.4" fill="url(#ulane)" opacity="0.48"/>
<rect x="343.46" y="194.7" width="0.7" height="69.4" fill="url(#ulane)" opacity="0.49"/>
<rect x="347.4" y="194.7" width="5.9" height="69.4" fill="url(#ulane)" opacity="0.95"/>
<rect x="347.4" y="194.7" width="1.0" height="69.4" fill="url(#ulane)" opacity="0.96"/>
<rect x="352.1" y="194.7" width="1.2" height="69.4" fill="url(#ulane)" opacity="1"/>
<rect x="351.04" y="194.7" width="0.7" height="69.4" fill="url(#ulane)" opacity="0.29"/>
<rect x="349.77" y="194.7" width="0.7" height="69.4" fill="url(#ulane)" opacity="0.25"/>
<rect x="354.5" y="194.7" width="5.9" height="69.4" fill="url(#ulane)" opacity="0.9"/>
<rect x="354.5" y="194.7" width="1.0" height="69.4" fill="url(#ulane)" opacity="0.92"/>
<rect x="359.2" y="194.7" width="1.2" height="69.4" fill="url(#ulane)" opacity="0.97"/>
<rect x="356.35" y="194.7" width="0.7" height="69.4" fill="url(#ulane)" opacity="0.22"/>
<rect x="356.72" y="194.7" width="0.7" height="69.4" fill="url(#ulane)" opacity="0.38"/>
<rect x="361.6" y="194.7" width="3.3" height="69.4" fill="url(#ulane)" opacity="0.6"/>
<rect x="361.6" y="194.7" width="1.0" height="69.4" fill="url(#ulane)" opacity="0.68"/>
<rect x="363.7" y="194.7" width="1.2" height="69.4" fill="url(#ulane)" opacity="0.73"/>
<rect x="363.1" y="194.7" width="0.7" height="69.4" fill="url(#ulane)" opacity="0.4"/>
<rect x="363.03" y="194.7" width="0.7" height="69.4" fill="url(#ulane)" opacity="0.29"/>
</g>
<line x1="280.4" y1="194.7" x2="280.4" y2="264.1" stroke="#f2f2f2" stroke-width="0.8" opacity="0.85"/>
<line x1="288.4" y1="194.7" x2="288.4" y2="264.1" stroke="#f2f2f2" stroke-width="0.8" opacity="0.85"/>
<line x1="296.4" y1="194.7" x2="296.4" y2="264.1" stroke="#f2f2f2" stroke-width="0.8" opacity="0.85"/>
<line x1="303.4" y1="194.7" x2="303.4" y2="264.1" stroke="#f2f2f2" stroke-width="0.8" opacity="0.85"/>
<line x1="311.4" y1="194.7" x2="311.4" y2="264.1" stroke="#f2f2f2" stroke-width="0.8" opacity="0.85"/>
<line x1="318.5" y1="194.7" x2="318.5" y2="264.1" stroke="#f2f2f2" stroke-width="0.8" opacity="0.85"/>
<line x1="326.4" y1="194.7" x2="326.4" y2="264.1" stroke="#f2f2f2" stroke-width="0.8" opacity="0.85"/>
<line x1="332.6" y1="194.7" x2="332.6" y2="264.1" stroke="#f2f2f2" stroke-width="0.8" opacity="0.85"/>
<line x1="339.7" y1="194.7" x2="339.7" y2="264.1" stroke="#f2f2f2" stroke-width="0.8" opacity="0.85"/>
<line x1="346.8" y1="194.7" x2="346.8" y2="264.1" stroke="#f2f2f2" stroke-width="0.8" opacity="0.85"/>
<line x1="353.9" y1="194.7" x2="353.9" y2="264.1" stroke="#f2f2f2" stroke-width="0.8" opacity="0.85"/>
<line x1="361" y1="194.7" x2="361" y2="264.1" stroke="#f2f2f2" stroke-width="0.8" opacity="0.85"/>
<path d="M290.8 209.6 Q292 207.6 293.6 207.9 Q295.4 208.6 296.8 207.8 Q298.8 208 299.2 209.6 Q298.4 211.4 296.6 212.4 Q295 213.4 293.6 212.6 Q291.6 211.6 290.8 209.6z" fill="#f6f6f6" stroke="#444" stroke-width="0.5"/>
<rect x="278.4" y="194.2" width="87.2" height="70.4" fill="none" stroke="#111" stroke-width="0.9" />
<text x="273.2" y="206.87" font-size="5.2" stroke="#262626" stroke-width="0.16" text-anchor="end" fill="#262626">250 kDa</text>
<line x1="274.6" y1="205" x2="277.7" y2="205" stroke="#333" stroke-width="0.75"/>
<text x="273.2" y="214.87" font-size="5.2" stroke="#262626" stroke-width="0.16" text-anchor="end" fill="#262626">130 kDa</text>
<line x1="274.6" y1="213" x2="277.7" y2="213" stroke="#333" stroke-width="0.75"/>
<text x="273.2" y="225.37" font-size="5.2" stroke="#262626" stroke-width="0.16" text-anchor="end" fill="#262626">100 kDa</text>
<line x1="274.6" y1="223.5" x2="277.7" y2="223.5" stroke="#333" stroke-width="0.75"/>
<text x="273.2" y="233.07" font-size="5.2" stroke="#262626" stroke-width="0.16" text-anchor="end" fill="#262626" textLength="17" lengthAdjust="spacingAndGlyphs">70 kDa</text>
<line x1="274.6" y1="231.2" x2="277.7" y2="231.2" stroke="#333" stroke-width="0.75"/>
<text x="273.2" y="244.37" font-size="5.2" stroke="#262626" stroke-width="0.16" text-anchor="end" fill="#262626" textLength="17" lengthAdjust="spacingAndGlyphs">55 kDa</text>
<line x1="274.6" y1="242.5" x2="277.7" y2="242.5" stroke="#333" stroke-width="0.75"/>
<text x="273.2" y="261.67" font-size="5.2" stroke="#262626" stroke-width="0.16" text-anchor="end" fill="#262626" textLength="17" lengthAdjust="spacingAndGlyphs">35 kDa</text>
<line x1="274.6" y1="259.8" x2="277.7" y2="259.8" stroke="#333" stroke-width="0.75"/>
<text x="368.8" y="229.4" font-size="5.3" stroke="#262626" stroke-width="0.16" fill="#262626">Ubiquitin</text>
<rect x="278.3" y="275" width="87.2" height="7.4" fill="#e8e8e8" />
<g filter="url(#bl)">
<rect x="279.76" y="277.23" width="7.39" height="3.14" rx="1.57" fill="#111" opacity="0.95"/>
<rect x="285.68" y="277.23" width="7.39" height="3.14" rx="1.57" fill="#111" opacity="0.95"/>
<rect x="291.59" y="277.23" width="7.39" height="3.14" rx="1.57" fill="#111" opacity="0.95"/>
<rect x="297.5" y="277.23" width="7.39" height="3.14" rx="1.57" fill="#111" opacity="0.95"/>
<rect x="303.42" y="277.23" width="7.39" height="3.14" rx="1.57" fill="#111" opacity="0.95"/>
<rect x="309.33" y="277.23" width="7.39" height="3.14" rx="1.57" fill="#111" opacity="0.95"/>
<rect x="315.25" y="277.23" width="7.39" height="3.14" rx="1.57" fill="#111" opacity="0.95"/>
<rect x="321.16" y="277.23" width="7.39" height="3.14" rx="1.57" fill="#111" opacity="0.95"/>
<rect x="327.07" y="277.23" width="7.39" height="3.14" rx="1.57" fill="#111" opacity="0.95"/>
<rect x="332.99" y="277.23" width="7.39" height="3.14" rx="1.57" fill="#111" opacity="0.95"/>
<rect x="338.9" y="277.23" width="7.39" height="3.14" rx="1.57" fill="#111" opacity="0.95"/>
<rect x="344.82" y="277.23" width="7.39" height="3.14" rx="1.57" fill="#111" opacity="0.95"/>
<rect x="350.73" y="277.23" width="7.39" height="3.14" rx="1.57" fill="#111" opacity="0.95"/>
<rect x="356.65" y="277.23" width="7.39" height="3.14" rx="1.57" fill="#111" opacity="0.95"/>
</g>
<rect x="278.3" y="275" width="87.2" height="7.4" fill="none" stroke="#222" stroke-width="1" />
<text x="273.2" y="281.27" font-size="5.2" stroke="#262626" stroke-width="0.16" text-anchor="end" fill="#262626" textLength="17" lengthAdjust="spacingAndGlyphs">42 kDa</text>
<line x1="274.6" y1="279.4" x2="277.7" y2="279.4" stroke="#333" stroke-width="0.75"/>
<text x="368" y="281.3" font-size="5.3" stroke="#262626" stroke-width="0.16" fill="#262626">β-actin</text>
<text x="407.4" y="165.7" font-size="11.3" font-weight="bold" fill="#000">H</text>
<line x1="435" y1="172.6" x2="435" y2="232.8" stroke="#111" stroke-width="0.9"/>
<line x1="430.5" y1="173" x2="435" y2="173" stroke="#111" stroke-width="0.8"/>
<text x="428.3" y="174.94" font-size="5.4" stroke="#262626" stroke-width="0.16" text-anchor="end" fill="#262626" textLength="6.7" lengthAdjust="spacingAndGlyphs">2.5</text>
<line x1="430.5" y1="184.9" x2="435" y2="184.9" stroke="#111" stroke-width="0.8"/>
<text x="428.3" y="186.84" font-size="5.4" stroke="#262626" stroke-width="0.16" text-anchor="end" fill="#262626" textLength="6.7" lengthAdjust="spacingAndGlyphs">2.0</text>
<line x1="430.5" y1="196.8" x2="435" y2="196.8" stroke="#111" stroke-width="0.8"/>
<text x="428.3" y="198.74" font-size="5.4" stroke="#262626" stroke-width="0.16" text-anchor="end" fill="#262626" textLength="6.7" lengthAdjust="spacingAndGlyphs">1.5</text>
<line x1="430.5" y1="208.7" x2="435" y2="208.7" stroke="#111" stroke-width="0.8"/>
<text x="428.3" y="210.64" font-size="5.4" stroke="#262626" stroke-width="0.16" text-anchor="end" fill="#262626" textLength="6.7" lengthAdjust="spacingAndGlyphs">1.0</text>
<line x1="430.5" y1="220.6" x2="435" y2="220.6" stroke="#111" stroke-width="0.8"/>
<text x="428.3" y="222.54" font-size="5.4" stroke="#262626" stroke-width="0.16" text-anchor="end" fill="#262626" textLength="6.7" lengthAdjust="spacingAndGlyphs">0.5</text>
<line x1="430.5" y1="232.4" x2="435" y2="232.4" stroke="#111" stroke-width="0.8"/>
<text x="428.3" y="234.34" font-size="5.4" stroke="#262626" stroke-width="0.16" text-anchor="end" fill="#262626" textLength="6.7" lengthAdjust="spacingAndGlyphs">0.0</text>
<line x1="435" y1="232.4" x2="494.6" y2="232.4" stroke="#111" stroke-width="0.9"/>
<line x1="448.2" y1="232.4" x2="448.2" y2="235.4" stroke="#111" stroke-width="0.8"/>
<line x1="479.8" y1="232.4" x2="479.8" y2="235.4" stroke="#111" stroke-width="0.8"/>
<text x="415.5" y="201.9" font-size="7" stroke="#262626" stroke-width="0.16" text-anchor="middle" fill="#262626" textLength="58.6" lengthAdjust="spacingAndGlyphs" transform="rotate(-90 415.5 201.9)">Ubiquitylated protein</text>
<rect x="438.8" y="210.5" width="7.4" height="21.9" fill="#b5bac2" />
<rect x="450.8" y="188" width="6.9" height="44.4" fill="#ec9aa8" />
<rect x="470.4" y="214.6" width="7.6" height="17.8" fill="#a7bfd7" />
<rect x="482.4" y="195" width="7.1" height="37.4" fill="#bfe1bb" />
<circle cx="440" cy="209.5" r="1.3" fill="#2f3b4d"/>
<circle cx="442.5" cy="211.5" r="1.3" fill="#2f3b4d"/>
<circle cx="445" cy="210.5" r="1.3" fill="#2f3b4d"/>
<circle cx="443.5" cy="208.5" r="1.3" fill="#2f3b4d"/>
<line x1="454.25" y1="184.5" x2="454.25" y2="192" stroke="#c6173a" stroke-width="1"/>
<line x1="452.35" y1="184.5" x2="456.15" y2="184.5" stroke="#c6173a" stroke-width="1"/>
<line x1="452.35" y1="192" x2="456.15" y2="192" stroke="#c6173a" stroke-width="1"/>
<circle cx="454.25" cy="185.5" r="1.3" fill="#c6173a"/>
<circle cx="454.25" cy="189" r="1.3" fill="#c6173a"/>
<circle cx="471.7" cy="214.6" r="1.3" fill="#1e4e80"/>
<circle cx="474.2" cy="214.6" r="1.3" fill="#1e4e80"/>
<circle cx="476.7" cy="214.6" r="1.3" fill="#1e4e80"/>
<line x1="485.95" y1="186.8" x2="485.95" y2="200.5" stroke="#33ad4c" stroke-width="1"/>
<line x1="484" y1="186.8" x2="487.9" y2="186.8" stroke="#33ad4c" stroke-width="1"/>
<line x1="484" y1="200.5" x2="487.9" y2="200.5" stroke="#33ad4c" stroke-width="1"/>
<circle cx="454.3" cy="181.5" r="1.2" fill="none" stroke="#c6173a" stroke-width="0.7"/>
<circle cx="485.95" cy="187.7" r="1.2" fill="none" stroke="#33ad4c" stroke-width="0.7"/>
<circle cx="485.95" cy="201.5" r="1.2" fill="none" stroke="#33ad4c" stroke-width="0.7"/>
<circle cx="485.95" cy="206.0" r="1.2" fill="none" stroke="#33ad4c" stroke-width="0.7"/>
<line x1="441.5" y1="176" x2="454.2" y2="176" stroke="#6b6b6b" stroke-width="0.9"/>
<text x="447.85" y="175.6" font-size="5.2" stroke="#262626" stroke-width="0.16" text-anchor="middle" fill="#262626">***</text>
<line x1="473.4" y1="183" x2="485.9" y2="183" stroke="#6b6b6b" stroke-width="0.9"/>
<text x="479.65" y="180.3" font-size="5.2" text-anchor="middle" fill="#333"><tspan font-style="italic">P</tspan> = .080</text>
<text x="442.7" y="243.8" font-size="5.8" stroke="#262626" stroke-width="0.16" text-anchor="middle" fill="#262626" textLength="7.5" lengthAdjust="spacingAndGlyphs">WT</text>
<text x="453.8" y="243.8" font-size="5.8" stroke="#262626" stroke-width="0.16" text-anchor="middle" fill="#262626" textLength="7.4" lengthAdjust="spacingAndGlyphs">KO</text>
<text x="474.3" y="243.8" font-size="5.8" stroke="#262626" stroke-width="0.16" text-anchor="middle" fill="#262626" textLength="7.5" lengthAdjust="spacingAndGlyphs">WT</text>
<text x="485.4" y="243.8" font-size="5.8" stroke="#262626" stroke-width="0.16" text-anchor="middle" fill="#262626" textLength="7.4" lengthAdjust="spacingAndGlyphs">KO</text>
<line x1="438" y1="245.8" x2="457.7" y2="245.8" stroke="#8a8a8a" stroke-width="0.9"/>
<line x1="469.2" y1="245.8" x2="489.5" y2="245.8" stroke="#8a8a8a" stroke-width="0.9"/>
<text x="448.5" y="253.5" font-size="5.6" stroke="#262626" stroke-width="0.16" text-anchor="middle" fill="#262626" textLength="17.4" lengthAdjust="spacingAndGlyphs">Vehicle</text>
<text x="479.6" y="253.5" font-size="5.6" stroke="#262626" stroke-width="0.16" text-anchor="middle" fill="#262626" textLength="26.8" lengthAdjust="spacingAndGlyphs">Rapamycin</text>
<line x1="8.6" y1="272.8" x2="8.6" y2="280" stroke="#000" stroke-width="2"/>
<text x="73.3" y="279.6" font-size="8.3" stroke="#262626" stroke-width="0.22" text-anchor="middle" fill="#262626" textLength="71.8" lengthAdjust="spacingAndGlyphs">Tertiary Transplanted</text>
<text x="73.5" y="288.8" font-size="8.3" stroke="#262626" stroke-width="0.22" text-anchor="middle" fill="#262626" textLength="51.4" lengthAdjust="spacingAndGlyphs">Leukemia Cells</text>
<text x="56.5" y="298.4" font-size="5.3" stroke="#262626" stroke-width="0.16" text-anchor="middle" fill="#262626" textLength="16.7" lengthAdjust="spacingAndGlyphs">Vehicle</text>
<text x="95" y="298.4" font-size="5.3" stroke="#262626" stroke-width="0.16" text-anchor="middle" fill="#262626" textLength="26.5" lengthAdjust="spacingAndGlyphs">Rapamycin</text>
<text x="43.8" y="305.8" font-size="5.3" stroke="#262626" stroke-width="0.16" text-anchor="middle" fill="#262626" textLength="8" lengthAdjust="spacingAndGlyphs">WT</text>
<text x="65.3" y="305.8" font-size="5.3" stroke="#262626" stroke-width="0.16" text-anchor="middle" fill="#262626" textLength="8" lengthAdjust="spacingAndGlyphs">KO</text>
<text x="85" y="305.8" font-size="5.3" stroke="#262626" stroke-width="0.16" text-anchor="middle" fill="#262626" textLength="8" lengthAdjust="spacingAndGlyphs">WT</text>
<text x="102.7" y="305.8" font-size="5.3" stroke="#262626" stroke-width="0.16" text-anchor="middle" fill="#262626" textLength="8" lengthAdjust="spacingAndGlyphs">KO</text>
<line x1="33.5" y1="308.1" x2="54.2" y2="308.1" stroke="#8a8a8a" stroke-width="0.9"/>
<line x1="56" y1="308.1" x2="76.2" y2="308.1" stroke="#8a8a8a" stroke-width="0.9"/>
<line x1="78" y1="308.1" x2="90.5" y2="308.1" stroke="#8a8a8a" stroke-width="0.9"/>
<line x1="92.3" y1="308.1" x2="113" y2="308.1" stroke="#8a8a8a" stroke-width="0.9"/>
<rect x="31.2" y="311.4" width="84.6" height="10.1" fill="#e8e8e8" />
<g filter="url(#bl)">
<rect x="33.53" y="313.8" width="6.42" height="4.79" rx="1.6" fill="#111" opacity="0.97"/>
<rect x="40.22" y="313.8" width="6.42" height="4.79" rx="1.6" fill="#111" opacity="0.97"/>
<rect x="46.9" y="313.8" width="6.42" height="4.79" rx="1.6" fill="#111" opacity="0.97"/>
<rect x="53.58" y="313.8" width="6.42" height="4.79" rx="1.6" fill="#111" opacity="0.97"/>
<rect x="60.27" y="313.8" width="6.42" height="4.79" rx="1.6" fill="#111" opacity="0.97"/>
<rect x="66.95" y="313.8" width="6.42" height="4.79" rx="1.6" fill="#111" opacity="0.97"/>
<rect x="73.63" y="313.8" width="6.42" height="4.79" rx="1.6" fill="#111" opacity="0.97"/>
<rect x="80.32" y="313.8" width="6.42" height="4.79" rx="1.6" fill="#111" opacity="0.97"/>
<rect x="87" y="313.8" width="6.42" height="4.79" rx="1.6" fill="#111" opacity="0.97"/>
<rect x="93.68" y="313.8" width="6.42" height="4.79" rx="1.6" fill="#111" opacity="0.97"/>
<rect x="100.37" y="313.8" width="6.42" height="4.79" rx="1.6" fill="#111" opacity="0.97"/>
<rect x="107.05" y="313.8" width="6.42" height="4.79" rx="1.6" fill="#111" opacity="0.97"/>
</g>
<rect x="31.2" y="311.4" width="84.6" height="10.1" fill="none" stroke="#222" stroke-width="1" />
<rect x="31.2" y="326.3" width="84.6" height="9.8" fill="#e8e8e8" />
<g filter="url(#bl)">
<rect x="33.53" y="328.7" width="6.42" height="4.79" rx="1.6" fill="#111" opacity="0.97"/>
<rect x="40.22" y="328.7" width="6.42" height="4.79" rx="1.6" fill="#111" opacity="0.97"/>
<rect x="46.9" y="328.7" width="6.42" height="4.79" rx="1.6" fill="#111" opacity="0.97"/>
<rect x="53.58" y="328.7" width="6.42" height="4.79" rx="1.6" fill="#111" opacity="0.97"/>
<rect x="60.27" y="328.7" width="6.42" height="4.79" rx="1.6" fill="#111" opacity="0.97"/>
<rect x="66.95" y="328.7" width="6.42" height="4.79" rx="1.6" fill="#111" opacity="0.97"/>
<rect x="73.63" y="328.7" width="6.42" height="4.79" rx="1.6" fill="#111" opacity="0.97"/>
<rect x="80.32" y="328.7" width="6.42" height="4.79" rx="1.6" fill="#111" opacity="0.97"/>
<rect x="87" y="328.7" width="6.42" height="4.79" rx="1.6" fill="#111" opacity="0.97"/>
<rect x="93.68" y="328.7" width="6.42" height="4.79" rx="1.6" fill="#111" opacity="0.97"/>
<rect x="100.37" y="328.7" width="6.42" height="4.79" rx="1.6" fill="#111" opacity="0.97"/>
<rect x="107.05" y="328.7" width="6.42" height="4.79" rx="1.6" fill="#111" opacity="0.97"/>
</g>
<rect x="31.2" y="326.3" width="84.6" height="9.8" fill="none" stroke="#222" stroke-width="1" />
<rect x="31.2" y="341.2" width="84.6" height="10.6" fill="#a2a2a2" />
<g filter="url(#bl)">
<rect x="33.53" y="344.51" width="6.42" height="3.98" rx="1.6" fill="#111" opacity="0.85"/>
<rect x="40.22" y="344.51" width="6.42" height="3.98" rx="1.6" fill="#111" opacity="0.85"/>
<rect x="46.9" y="344.58" width="6.42" height="3.85" rx="1.6" fill="#111" opacity="0.75"/>
<rect x="53.58" y="344.44" width="6.42" height="4.11" rx="1.6" fill="#111" opacity="0.95"/>
<rect x="60.27" y="344.51" width="6.42" height="3.98" rx="1.6" fill="#111" opacity="0.85"/>
<rect x="66.95" y="344.51" width="6.42" height="3.98" rx="1.6" fill="#111" opacity="0.85"/>
<rect x="73.63" y="344.54" width="6.42" height="3.91" rx="1.6" fill="#111" opacity="0.8"/>
<rect x="80.32" y="344.44" width="6.42" height="4.11" rx="1.6" fill="#111" opacity="0.95"/>
<rect x="87" y="344.44" width="6.42" height="4.11" rx="1.6" fill="#111" opacity="0.95"/>
<rect x="93.68" y="344.44" width="6.42" height="4.11" rx="1.6" fill="#111" opacity="0.95"/>
<rect x="100.37" y="344.44" width="6.42" height="4.11" rx="1.6" fill="#111" opacity="0.95"/>
<rect x="107.05" y="344.51" width="6.42" height="3.98" rx="1.6" fill="#111" opacity="0.85"/>
</g>
<rect x="31.2" y="341.2" width="84.6" height="10.6" fill="none" stroke="#222" stroke-width="1" />
<text x="26" y="317.71" font-size="5.3" stroke="#262626" stroke-width="0.16" text-anchor="end" fill="#262626" textLength="17" lengthAdjust="spacingAndGlyphs">42 kDa</text>
<line x1="27.4" y1="315.8" x2="30.5" y2="315.8" stroke="#333" stroke-width="0.75"/>
<text x="26" y="333.51" font-size="5.3" stroke="#262626" stroke-width="0.16" text-anchor="end" fill="#262626" textLength="17" lengthAdjust="spacingAndGlyphs">42 kDa</text>
<line x1="27.4" y1="331.6" x2="30.5" y2="331.6" stroke="#333" stroke-width="0.75"/>
<text x="26" y="348.21" font-size="5.3" stroke="#262626" stroke-width="0.16" text-anchor="end" fill="#262626" textLength="17" lengthAdjust="spacingAndGlyphs">42 kDa</text>
<line x1="27.4" y1="346.3" x2="30.5" y2="346.3" stroke="#333" stroke-width="0.75"/>
<text x="118.5" y="317.8" font-size="5.3" stroke="#262626" stroke-width="0.16" fill="#262626">p-EIF2α</text>
<text x="118.5" y="333.6" font-size="5.3" stroke="#262626" stroke-width="0.16" fill="#262626">EIF2α</text>
<text x="118.5" y="348.3" font-size="5.3" stroke="#262626" stroke-width="0.16" fill="#262626">β-actin</text>
<text x="152.8" y="280.8" font-size="11.3" font-weight="bold" fill="#000">J</text>
<line x1="176.5" y1="288.4" x2="176.5" y2="348.9" stroke="#111" stroke-width="0.9"/>
<line x1="172" y1="288.8" x2="176.5" y2="288.8" stroke="#111" stroke-width="0.8"/>
<text x="169.8" y="290.74" font-size="5.4" stroke="#262626" stroke-width="0.16" text-anchor="end" fill="#262626" textLength="6.7" lengthAdjust="spacingAndGlyphs">1.5</text>
<line x1="172" y1="308.7" x2="176.5" y2="308.7" stroke="#111" stroke-width="0.8"/>
<text x="169.8" y="310.64" font-size="5.4" stroke="#262626" stroke-width="0.16" text-anchor="end" fill="#262626" textLength="6.7" lengthAdjust="spacingAndGlyphs">1.0</text>
<line x1="172" y1="328.6" x2="176.5" y2="328.6" stroke="#111" stroke-width="0.8"/>
<text x="169.8" y="330.54" font-size="5.4" stroke="#262626" stroke-width="0.16" text-anchor="end" fill="#262626" textLength="6.7" lengthAdjust="spacingAndGlyphs">0.5</text>
<line x1="172" y1="348.5" x2="176.5" y2="348.5" stroke="#111" stroke-width="0.8"/>
<text x="169.8" y="350.44" font-size="5.4" stroke="#262626" stroke-width="0.16" text-anchor="end" fill="#262626" textLength="6.7" lengthAdjust="spacingAndGlyphs">0.0</text>
<line x1="176.5" y1="348.5" x2="239" y2="348.5" stroke="#111" stroke-width="0.9"/>
<line x1="191.5" y1="348.5" x2="191.5" y2="351.5" stroke="#111" stroke-width="0.8"/>
<line x1="224.2" y1="348.5" x2="224.2" y2="351.5" stroke="#111" stroke-width="0.8"/>
<text x="159.8" y="322" font-size="6.2" stroke="#262626" stroke-width="0.16" text-anchor="middle" fill="#262626" textLength="40.8" lengthAdjust="spacingAndGlyphs" transform="rotate(-90 159.8 322)">pEIF2α/β-actin</text>
<rect x="182" y="309" width="7.6" height="39.5" fill="#b5bac2" />
<rect x="193.8" y="316.2" width="7.7" height="32.3" fill="#ec9aa8" />
<rect x="214" y="322.5" width="7.7" height="26" fill="#a7bfd7" />
<rect x="226.2" y="315.8" width="7.6" height="32.7" fill="#bfe1bb" />
<line x1="185.8" y1="306" x2="185.8" y2="312" stroke="#2f3b4d" stroke-width="1"/>
<line x1="183.71" y1="306" x2="187.89" y2="306" stroke="#2f3b4d" stroke-width="1"/>
<line x1="183.71" y1="312" x2="187.89" y2="312" stroke="#2f3b4d" stroke-width="1"/>
<circle cx="185.8" cy="306.5" r="1.3" fill="#2f3b4d"/>
<circle cx="185.8" cy="309" r="1.3" fill="#2f3b4d"/>
<circle cx="185.8" cy="311.5" r="1.3" fill="#2f3b4d"/>
<line x1="197.65" y1="310.5" x2="197.65" y2="322" stroke="#c6173a" stroke-width="1"/>
<line x1="195.53" y1="310.5" x2="199.77" y2="310.5" stroke="#c6173a" stroke-width="1"/>
<line x1="195.53" y1="322" x2="199.77" y2="322" stroke="#c6173a" stroke-width="1"/>
<circle cx="197.65" cy="316.5" r="1.3" fill="#c6173a"/>
<circle cx="197.65" cy="320" r="1.3" fill="#c6173a"/>
<circle cx="215.35" cy="322.8" r="1.3" fill="#1e4e80"/>
<circle cx="217.85" cy="322.3" r="1.3" fill="#1e4e80"/>
<circle cx="220.35" cy="322" r="1.3" fill="#1e4e80"/>
<line x1="230" y1="310" x2="230" y2="321.5" stroke="#33ad4c" stroke-width="1"/>
<line x1="227.91" y1="310" x2="232.09" y2="310" stroke="#33ad4c" stroke-width="1"/>
<line x1="227.91" y1="321.5" x2="232.09" y2="321.5" stroke="#33ad4c" stroke-width="1"/>
<circle cx="230" cy="318" r="1.3" fill="#33ad4c"/>
<circle cx="230" cy="321.5" r="1.3" fill="#33ad4c"/>
<circle cx="197.65" cy="309.5" r="1.2" fill="none" stroke="#c6173a" stroke-width="0.7"/>
<circle cx="197.65" cy="312.5" r="1.2" fill="none" stroke="#c6173a" stroke-width="0.7"/>
<circle cx="228" cy="311.5" r="1.1" fill="none" stroke="#33ad4c" stroke-width="0.7"/>
<circle cx="230" cy="311.5" r="1.1" fill="none" stroke="#33ad4c" stroke-width="0.7"/>
<circle cx="232" cy="311.5" r="1.1" fill="none" stroke="#33ad4c" stroke-width="0.7"/>
<line x1="182.7" y1="302" x2="194.8" y2="302" stroke="#6b6b6b" stroke-width="0.9"/>
<text x="188.75" y="300.8" font-size="5.2" text-anchor="middle" fill="#333"><tspan font-style="italic">P</tspan> = .15</text>
<line x1="216" y1="306.5" x2="227.5" y2="306.5" stroke="#6b6b6b" stroke-width="0.9"/>
<text x="221.75" y="304.5" font-size="5.2" text-anchor="middle" fill="#333"><tspan font-style="italic">P</tspan> = .13</text>
<text x="186.2" y="357.8" font-size="5.8" stroke="#262626" stroke-width="0.16" text-anchor="middle" fill="#262626" textLength="7.5" lengthAdjust="spacingAndGlyphs">WT</text>
<text x="197.7" y="357.8" font-size="5.8" stroke="#262626" stroke-width="0.16" text-anchor="middle" fill="#262626" textLength="7.4" lengthAdjust="spacingAndGlyphs">KO</text>
<text x="218.5" y="357.8" font-size="5.8" stroke="#262626" stroke-width="0.16" text-anchor="middle" fill="#262626" textLength="7.5" lengthAdjust="spacingAndGlyphs">WT</text>
<text x="230" y="357.8" font-size="5.8" stroke="#262626" stroke-width="0.16" text-anchor="middle" fill="#262626" textLength="7.4" lengthAdjust="spacingAndGlyphs">KO</text>
<line x1="182.3" y1="360" x2="201.2" y2="360" stroke="#8a8a8a" stroke-width="0.9"/>
<line x1="214" y1="360" x2="234.2" y2="360" stroke="#8a8a8a" stroke-width="0.9"/>
<text x="191.5" y="367.2" font-size="5.6" stroke="#262626" stroke-width="0.16" text-anchor="middle" fill="#262626" textLength="17.4" lengthAdjust="spacingAndGlyphs">Vehicle</text>
<text x="224.2" y="367.2" font-size="5.6" stroke="#262626" stroke-width="0.16" text-anchor="middle" fill="#262626" textLength="26.8" lengthAdjust="spacingAndGlyphs">Rapamycin</text>
<text x="7.6" y="393.8" font-size="11.3" font-weight="bold" fill="#000">K</text>
<rect x="31" y="395.8" width="14.6" height="3.6" fill="#ee5533"/>
<rect x="45.3" y="395.8" width="14.7" height="3.6" fill="#c8c0e0"/>
<rect x="59.7" y="395.8" width="14.8" height="3.6" fill="#f07050"/>
<rect x="74.2" y="395.8" width="14.3" height="3.6" fill="#7060b0"/>
<rect x="31" y="398.8" width="14.6" height="3.6" fill="#e84020"/>
<rect x="45.3" y="398.8" width="14.7" height="3.6" fill="#b8b0d8"/>
<rect x="59.7" y="398.8" width="14.8" height="3.6" fill="#f5a080"/>
<rect x="74.2" y="398.8" width="14.3" height="3.6" fill="#9080c0"/>
<rect x="31" y="401.8" width="14.6" height="3.6" fill="#e84020"/>
<rect x="45.3" y="401.8" width="14.7" height="3.6" fill="#d0c8e8"/>
<rect x="59.7" y="401.8" width="14.8" height="3.6" fill="#f5b090"/>
<rect x="74.2" y="401.8" width="14.3" height="3.6" fill="#9080c0"/>
<rect x="31" y="404.8" width="14.6" height="3.6" fill="#f06040"/>
<rect x="45.3" y="404.8" width="14.7" height="3.6" fill="#d0c8e8"/>
<rect x="59.7" y="404.8" width="14.8" height="3.6" fill="#f5a888"/>
<rect x="74.2" y="404.8" width="14.3" height="3.6" fill="#9888c8"/>
<rect x="31" y="407.8" width="14.6" height="3.6" fill="#f07050"/>
<rect x="45.3" y="407.8" width="14.7" height="3.6" fill="#c0b8e0"/>
<rect x="59.7" y="407.8" width="14.8" height="3.6" fill="#f8b898"/>
<rect x="74.2" y="407.8" width="14.3" height="3.6" fill="#a090c8"/>
<rect x="31" y="410.8" width="14.6" height="3.6" fill="#f07050"/>
<rect x="45.3" y="410.8" width="14.7" height="3.6" fill="#9890c8"/>
<rect x="59.7" y="410.8" width="14.8" height="3.6" fill="#f08060"/>
<rect x="74.2" y="410.8" width="14.3" height="3.6" fill="#d8d0f0"/>
<rect x="31" y="413.8" width="14.6" height="3.6" fill="#f07858"/>
<rect x="45.3" y="413.8" width="14.7" height="3.6" fill="#b8b0d8"/>
<rect x="59.7" y="413.8" width="14.8" height="3.6" fill="#f09070"/>
<rect x="74.2" y="413.8" width="14.3" height="3.6" fill="#c0b8e0"/>
<rect x="31" y="416.8" width="14.6" height="3.6" fill="#f06848"/>
<rect x="45.3" y="416.8" width="14.7" height="3.6" fill="#b0a8d8"/>
<rect x="59.7" y="416.8" width="14.8" height="3.6" fill="#f5a888"/>
<rect x="74.2" y="416.8" width="14.3" height="3.6" fill="#b0a8d8"/>
<rect x="31" y="419.8" width="14.6" height="3.6" fill="#f07050"/>
<rect x="45.3" y="419.8" width="14.7" height="3.6" fill="#a8a0d0"/>
<rect x="59.7" y="419.8" width="14.8" height="3.6" fill="#f5b8a0"/>
<rect x="74.2" y="419.8" width="14.3" height="3.6" fill="#b8b0d8"/>
<rect x="31" y="422.8" width="14.6" height="3.6" fill="#f06848"/>
<rect x="45.3" y="422.8" width="14.7" height="3.6" fill="#b0a8d8"/>
<rect x="59.7" y="422.8" width="14.8" height="3.6" fill="#f8d0c0"/>
<rect x="74.2" y="422.8" width="14.3" height="3.6" fill="#c0b8e0"/>
<rect x="31" y="425.8" width="14.6" height="3.6" fill="#e02010"/>
<rect x="45.3" y="425.8" width="14.7" height="3.6" fill="#d0d0e8"/>
<rect x="59.7" y="425.8" width="14.8" height="3.6" fill="#f0e8f0"/>
<rect x="74.2" y="425.8" width="14.3" height="3.6" fill="#9888c8"/>
<rect x="31" y="428.8" width="14.6" height="3.6" fill="#e02010"/>
<rect x="45.3" y="428.8" width="14.7" height="3.6" fill="#e0d8e8"/>
<rect x="59.7" y="428.8" width="14.8" height="3.6" fill="#f0e8f0"/>
<rect x="74.2" y="428.8" width="14.3" height="3.6" fill="#a098d0"/>
<rect x="31" y="431.8" width="14.6" height="3.6" fill="#f04030"/>
<rect x="45.3" y="431.8" width="14.7" height="3.6" fill="#f0e8f0"/>
<rect x="59.7" y="431.8" width="14.8" height="3.6" fill="#f8d8d0"/>
<rect x="74.2" y="431.8" width="14.3" height="3.6" fill="#9080c0"/>
<rect x="31" y="434.8" width="14.6" height="3.6" fill="#f05040"/>
<rect x="45.3" y="434.8" width="14.7" height="3.6" fill="#f5f0f5"/>
<rect x="59.7" y="434.8" width="14.8" height="3.6" fill="#f8e0d8"/>
<rect x="74.2" y="434.8" width="14.3" height="3.6" fill="#a898d0"/>
<rect x="31" y="437.8" width="14.6" height="3.6" fill="#f06848"/>
<rect x="45.3" y="437.8" width="14.7" height="3.6" fill="#f5f0f0"/>
<rect x="59.7" y="437.8" width="14.8" height="3.6" fill="#f8e8e0"/>
<rect x="74.2" y="437.8" width="14.3" height="3.6" fill="#a090c8"/>
<rect x="31" y="440.8" width="14.6" height="3.6" fill="#f07050"/>
<rect x="45.3" y="440.8" width="14.7" height="3.6" fill="#f8f0f0"/>
<rect x="59.7" y="440.8" width="14.8" height="3.6" fill="#f8f0f0"/>
<rect x="74.2" y="440.8" width="14.3" height="3.6" fill="#a8a0d0"/>
<rect x="31" y="443.8" width="14.6" height="3.6" fill="#f08060"/>
<rect x="45.3" y="443.8" width="14.7" height="3.6" fill="#f8f0f0"/>
<rect x="59.7" y="443.8" width="14.8" height="3.6" fill="#f8f0f0"/>
<rect x="74.2" y="443.8" width="14.3" height="3.6" fill="#9890c8"/>
<rect x="31" y="446.8" width="14.6" height="3.6" fill="#f8b8a0"/>
<rect x="45.3" y="446.8" width="14.7" height="3.6" fill="#a8a0d0"/>
<rect x="59.7" y="446.8" width="14.8" height="3.6" fill="#e81808"/>
<rect x="74.2" y="446.8" width="14.3" height="3.6" fill="#a898d0"/>
<rect x="31" y="449.8" width="14.6" height="3.6" fill="#f8c0a8"/>
<rect x="45.3" y="449.8" width="14.7" height="3.6" fill="#b0a8d8"/>
<rect x="59.7" y="449.8" width="14.8" height="3.6" fill="#e81808"/>
<rect x="74.2" y="449.8" width="14.3" height="3.6" fill="#a898d0"/>
<rect x="31" y="452.8" width="14.6" height="3.6" fill="#f8c8b0"/>
<rect x="45.3" y="452.8" width="14.7" height="3.6" fill="#c8c0e0"/>
<rect x="59.7" y="452.8" width="14.8" height="3.6" fill="#e82010"/>
<rect x="74.2" y="452.8" width="14.3" height="3.6" fill="#9888c8"/>
<rect x="31" y="455.8" width="14.6" height="3.6" fill="#f8c0a8"/>
<rect x="45.3" y="455.8" width="14.7" height="3.6" fill="#d8d0e8"/>
<rect x="59.7" y="455.8" width="14.8" height="3.6" fill="#f04030"/>
<rect x="74.2" y="455.8" width="14.3" height="3.6" fill="#7868b8"/>
<rect x="31" y="458.8" width="14.6" height="3.6" fill="#f8d0c0"/>
<rect x="45.3" y="458.8" width="14.7" height="3.6" fill="#f0e8f0"/>
<rect x="59.7" y="458.8" width="14.8" height="3.6" fill="#f8b090"/>
<rect x="74.2" y="458.8" width="14.3" height="3.6" fill="#a090c8"/>
<rect x="31" y="461.8" width="14.6" height="3.6" fill="#f09070"/>
<rect x="45.3" y="461.8" width="14.7" height="3.6" fill="#f0e8f0"/>
<rect x="59.7" y="461.8" width="14.8" height="3.6" fill="#f8a888"/>
<rect x="74.2" y="461.8" width="14.3" height="3.6" fill="#9080c0"/>
<rect x="31" y="464.8" width="14.6" height="3.6" fill="#f8b8a0"/>
<rect x="45.3" y="464.8" width="14.7" height="3.6" fill="#e0d8e8"/>
<rect x="59.7" y="464.8" width="14.8" height="3.6" fill="#f8a888"/>
<rect x="74.2" y="464.8" width="14.3" height="3.6" fill="#a8a0d0"/>
<rect x="31" y="467.8" width="14.6" height="3.6" fill="#f8b098"/>
<rect x="45.3" y="467.8" width="14.7" height="3.6" fill="#e8e0f0"/>
<rect x="59.7" y="467.8" width="14.8" height="3.6" fill="#f08060"/>
<rect x="74.2" y="467.8" width="14.3" height="3.6" fill="#a098d0"/>
<rect x="31" y="470.8" width="14.6" height="3.6" fill="#f8d0c0"/>
<rect x="45.3" y="470.8" width="14.7" height="3.6" fill="#e8e0f0"/>
<rect x="59.7" y="470.8" width="14.8" height="3.6" fill="#f08060"/>
<rect x="74.2" y="470.8" width="14.3" height="3.6" fill="#9888c8"/>
<rect x="31" y="473.8" width="14.6" height="3.6" fill="#f8d8c8"/>
<rect x="45.3" y="473.8" width="14.7" height="3.6" fill="#e8e0f0"/>
<rect x="59.7" y="473.8" width="14.8" height="3.6" fill="#e83818"/>
<rect x="74.2" y="473.8" width="14.3" height="3.6" fill="#9080c0"/>
<rect x="31" y="476.8" width="14.6" height="3.6" fill="#f8e0d8"/>
<rect x="45.3" y="476.8" width="14.7" height="3.6" fill="#f0e8f0"/>
<rect x="59.7" y="476.8" width="14.8" height="3.6" fill="#f07050"/>
<rect x="74.2" y="476.8" width="14.3" height="3.6" fill="#a090c8"/>
<rect x="31" y="479.8" width="14.6" height="3.6" fill="#f8e0d8"/>
<rect x="45.3" y="479.8" width="14.7" height="3.6" fill="#f0e8f0"/>
<rect x="59.7" y="479.8" width="14.8" height="3.6" fill="#f8a080"/>
<rect x="74.2" y="479.8" width="14.3" height="3.6" fill="#9080c0"/>
<rect x="31" y="482.8" width="14.6" height="3.6" fill="#f8e0d8"/>
<rect x="45.3" y="482.8" width="14.7" height="3.6" fill="#f0e8f0"/>
<rect x="59.7" y="482.8" width="14.8" height="3.6" fill="#f8c0a8"/>
<rect x="74.2" y="482.8" width="14.3" height="3.6" fill="#9888c8"/>
<rect x="31" y="485.8" width="14.6" height="3.6" fill="#f8d8c8"/>
<rect x="45.3" y="485.8" width="14.7" height="3.6" fill="#f0e8f0"/>
<rect x="59.7" y="485.8" width="14.8" height="3.6" fill="#f8e8e8"/>
<rect x="74.2" y="485.8" width="14.3" height="3.6" fill="#9080c0"/>
<rect x="31" y="488.8" width="14.6" height="3.6" fill="#f09878"/>
<rect x="45.3" y="488.8" width="14.7" height="3.6" fill="#f09070"/>
<rect x="59.7" y="488.8" width="14.8" height="3.6" fill="#f0e8f0"/>
<rect x="74.2" y="488.8" width="14.3" height="3.6" fill="#6050a8"/>
<rect x="31" y="491.8" width="14.6" height="3.6" fill="#f8b098"/>
<rect x="45.3" y="491.8" width="14.7" height="3.6" fill="#f8c0a8"/>
<rect x="59.7" y="491.8" width="14.8" height="3.6" fill="#e8e8f0"/>
<rect x="74.2" y="491.8" width="14.3" height="3.6" fill="#7060b0"/>
<rect x="31" y="494.8" width="14.6" height="3.6" fill="#f8c0a8"/>
<rect x="45.3" y="494.8" width="14.7" height="3.6" fill="#f8b8a0"/>
<rect x="59.7" y="494.8" width="14.8" height="3.6" fill="#e8e8f0"/>
<rect x="74.2" y="494.8" width="14.3" height="3.6" fill="#8878c0"/>
<rect x="31" y="497.8" width="14.6" height="3.6" fill="#f8d8c8"/>
<rect x="45.3" y="497.8" width="14.7" height="3.6" fill="#f8a888"/>
<rect x="59.7" y="497.8" width="14.8" height="3.6" fill="#f0e8f0"/>
<rect x="74.2" y="497.8" width="14.3" height="3.6" fill="#9888c8"/>
<rect x="31" y="500.8" width="14.6" height="3.6" fill="#f8e0d8"/>
<rect x="45.3" y="500.8" width="14.7" height="3.6" fill="#f8a080"/>
<rect x="59.7" y="500.8" width="14.8" height="3.6" fill="#f8c0b0"/>
<rect x="74.2" y="500.8" width="14.3" height="3.6" fill="#9080c0"/>
<rect x="31" y="503.8" width="14.6" height="3.6" fill="#f8f0f0"/>
<rect x="45.3" y="503.8" width="14.7" height="3.6" fill="#f09070"/>
<rect x="59.7" y="503.8" width="14.8" height="3.6" fill="#f8d8c8"/>
<rect x="74.2" y="503.8" width="14.3" height="3.6" fill="#6858a8"/>
<rect x="31" y="506.8" width="14.6" height="3.6" fill="#f0e8f0"/>
<rect x="45.3" y="506.8" width="14.7" height="3.6" fill="#f08060"/>
<rect x="59.7" y="506.8" width="14.8" height="3.6" fill="#f8e0d8"/>
<rect x="74.2" y="506.8" width="14.3" height="3.6" fill="#7868b8"/>
<rect x="31" y="509.8" width="14.6" height="3.6" fill="#e0d8f0"/>
<rect x="45.3" y="509.8" width="14.7" height="3.6" fill="#f07050"/>
<rect x="59.7" y="509.8" width="14.8" height="3.6" fill="#f8c8b0"/>
<rect x="74.2" y="509.8" width="14.3" height="3.6" fill="#9888c8"/>
<rect x="31" y="512.8" width="14.6" height="3.6" fill="#e0d8f0"/>
<rect x="45.3" y="512.8" width="14.7" height="3.6" fill="#f07050"/>
<rect x="59.7" y="512.8" width="14.8" height="3.6" fill="#f8b8a0"/>
<rect x="74.2" y="512.8" width="14.3" height="3.6" fill="#a8a0d0"/>
<rect x="31" y="515.8" width="14.6" height="3.6" fill="#5048a0"/>
<rect x="45.3" y="515.8" width="14.7" height="3.6" fill="#f06040"/>
<rect x="59.7" y="515.8" width="14.8" height="3.6" fill="#f8c0a8"/>
<rect x="74.2" y="515.8" width="14.3" height="3.6" fill="#9888c8"/>
<rect x="31" y="518.8" width="14.6" height="3.6" fill="#d8d0e8"/>
<rect x="45.3" y="518.8" width="14.7" height="3.6" fill="#f06848"/>
<rect x="59.7" y="518.8" width="14.8" height="3.6" fill="#f0e8f0"/>
<rect x="74.2" y="518.8" width="14.3" height="3.6" fill="#8070b8"/>
<rect x="31" y="521.8" width="14.6" height="3.6" fill="#c8c0e0"/>
<rect x="45.3" y="521.8" width="14.7" height="3.6" fill="#f06040"/>
<rect x="59.7" y="521.8" width="14.8" height="3.6" fill="#f0e8f0"/>
<rect x="74.2" y="521.8" width="14.3" height="3.6" fill="#a090c8"/>
<rect x="31" y="524.8" width="14.6" height="3.6" fill="#c8c0e0"/>
<rect x="45.3" y="524.8" width="14.7" height="3.6" fill="#f06848"/>
<rect x="59.7" y="524.8" width="14.8" height="3.6" fill="#f0e8f0"/>
<rect x="74.2" y="524.8" width="14.3" height="3.6" fill="#a090c8"/>
<rect x="31" y="527.8" width="14.6" height="3.6" fill="#c0b8e0"/>
<rect x="45.3" y="527.8" width="14.7" height="3.6" fill="#f05030"/>
<rect x="59.7" y="527.8" width="14.8" height="3.6" fill="#f0e8f0"/>
<rect x="74.2" y="527.8" width="14.3" height="3.6" fill="#8070b8"/>
<rect x="31" y="530.8" width="14.6" height="3.6" fill="#c8c0e0"/>
<rect x="45.3" y="530.8" width="14.7" height="3.6" fill="#e84020"/>
<rect x="59.7" y="530.8" width="14.8" height="3.6" fill="#f0e8f0"/>
<rect x="74.2" y="530.8" width="14.3" height="3.6" fill="#8878c0"/>
<rect x="31" y="533.8" width="14.6" height="3.6" fill="#b8b0d8"/>
<rect x="45.3" y="533.8" width="14.7" height="3.6" fill="#f06040"/>
<rect x="59.7" y="533.8" width="14.8" height="3.6" fill="#f0e8f0"/>
<rect x="74.2" y="533.8" width="14.3" height="3.6" fill="#a098d0"/>
<rect x="31" y="536.8" width="14.6" height="3.6" fill="#c8c0e0"/>
<rect x="45.3" y="536.8" width="14.7" height="3.6" fill="#f06848"/>
<rect x="59.7" y="536.8" width="14.8" height="3.6" fill="#f0e8f0"/>
<rect x="74.2" y="536.8" width="14.3" height="3.6" fill="#a8a0d0"/>
<rect x="31" y="539.8" width="14.6" height="3.6" fill="#8878c0"/>
<rect x="45.3" y="539.8" width="14.7" height="3.6" fill="#e84020"/>
<rect x="59.7" y="539.8" width="14.8" height="3.6" fill="#f0e8f0"/>
<rect x="74.2" y="539.8" width="14.3" height="3.6" fill="#a090c8"/>
<rect x="31" y="542.8" width="14.6" height="3.6" fill="#9080c0"/>
<rect x="45.3" y="542.8" width="14.7" height="3.6" fill="#e83018"/>
<rect x="59.7" y="542.8" width="14.8" height="3.6" fill="#f0e8f8"/>
<rect x="74.2" y="542.8" width="14.3" height="3.6" fill="#a8a0d0"/>
<rect x="31" y="545.8" width="14.6" height="3.6" fill="#8070b8"/>
<rect x="45.3" y="545.8" width="14.7" height="3.6" fill="#e02010"/>
<rect x="59.7" y="545.8" width="14.8" height="3.6" fill="#e8e8f8"/>
<rect x="74.2" y="545.8" width="14.3" height="3.6" fill="#a098d0"/>
<text x="88.9" y="398.4" font-size="3.3" stroke="#555" stroke-width="0.05" fill="#555" textLength="10.2" lengthAdjust="spacingAndGlyphs">Rpl7</text>
<text x="88.9" y="401.4" font-size="3.3" stroke="#555" stroke-width="0.05" fill="#555" textLength="10.2" lengthAdjust="spacingAndGlyphs">Rpl23</text>
<text x="88.9" y="404.4" font-size="3.3" stroke="#555" stroke-width="0.05" fill="#555" textLength="10.2" lengthAdjust="spacingAndGlyphs">Rps26</text>
<text x="88.9" y="407.4" font-size="3.3" stroke="#555" stroke-width="0.05" fill="#555" textLength="10.2" lengthAdjust="spacingAndGlyphs">Rpl36a</text>
<text x="88.9" y="410.4" font-size="3.3" stroke="#555" stroke-width="0.05" fill="#555" textLength="10.2" lengthAdjust="spacingAndGlyphs">Rps7</text>
<text x="88.9" y="413.4" font-size="3.3" stroke="#555" stroke-width="0.05" fill="#555" textLength="10.2" lengthAdjust="spacingAndGlyphs">Rps21</text>
<text x="88.9" y="416.4" font-size="3.3" stroke="#555" stroke-width="0.05" fill="#555" textLength="10.2" lengthAdjust="spacingAndGlyphs">Rpl17a</text>
<text x="88.9" y="419.4" font-size="3.3" stroke="#555" stroke-width="0.05" fill="#555" textLength="10.2" lengthAdjust="spacingAndGlyphs">Rpl13a</text>
<text x="88.9" y="422.4" font-size="3.3" stroke="#555" stroke-width="0.05" fill="#555" textLength="10.2" lengthAdjust="spacingAndGlyphs">Rps23</text>
<text x="88.9" y="425.4" font-size="3.3" stroke="#555" stroke-width="0.05" fill="#555" textLength="10.2" lengthAdjust="spacingAndGlyphs">Rps27a</text>
<text x="88.9" y="428.4" font-size="3.3" stroke="#555" stroke-width="0.05" fill="#555" textLength="10.2" lengthAdjust="spacingAndGlyphs">Rpl10</text>
<text x="88.9" y="431.4" font-size="3.3" stroke="#555" stroke-width="0.05" fill="#555" textLength="10.2" lengthAdjust="spacingAndGlyphs">Rpl27</text>
<text x="88.9" y="434.4" font-size="3.3" stroke="#555" stroke-width="0.05" fill="#555" textLength="10.2" lengthAdjust="spacingAndGlyphs">Rps15</text>
<text x="88.9" y="437.4" font-size="3.3" stroke="#555" stroke-width="0.05" fill="#555" textLength="10.2" lengthAdjust="spacingAndGlyphs">Rpl35</text>
<text x="88.9" y="440.4" font-size="3.3" stroke="#555" stroke-width="0.05" fill="#555" textLength="10.2" lengthAdjust="spacingAndGlyphs">Rps9</text>
<text x="88.9" y="443.4" font-size="3.3" stroke="#555" stroke-width="0.05" fill="#555" textLength="10.2" lengthAdjust="spacingAndGlyphs">Rpl31</text>
<text x="88.9" y="446.4" font-size="3.3" stroke="#555" stroke-width="0.05" fill="#555" textLength="10.2" lengthAdjust="spacingAndGlyphs">Rps3a</text>
<text x="88.9" y="449.4" font-size="3.3" stroke="#555" stroke-width="0.05" fill="#555" textLength="10.2" lengthAdjust="spacingAndGlyphs">Rpl32</text>
<text x="88.9" y="452.4" font-size="3.3" stroke="#555" stroke-width="0.05" fill="#555" textLength="10.2" lengthAdjust="spacingAndGlyphs">Rps11</text>
<text x="88.9" y="455.4" font-size="3.3" stroke="#555" stroke-width="0.05" fill="#555" textLength="10.2" lengthAdjust="spacingAndGlyphs">Rpl21</text>
<text x="88.9" y="458.4" font-size="3.3" stroke="#555" stroke-width="0.05" fill="#555" textLength="10.2" lengthAdjust="spacingAndGlyphs">Rps16</text>
<text x="88.9" y="461.4" font-size="3.3" stroke="#555" stroke-width="0.05" fill="#555" textLength="10.2" lengthAdjust="spacingAndGlyphs">Rpl18</text>
<text x="88.9" y="464.4" font-size="3.3" stroke="#555" stroke-width="0.05" fill="#555" textLength="10.2" lengthAdjust="spacingAndGlyphs">Rps13</text>
<text x="88.9" y="467.4" font-size="3.3" stroke="#555" stroke-width="0.05" fill="#555" textLength="10.2" lengthAdjust="spacingAndGlyphs">Rpl37</text>
<text x="88.9" y="470.4" font-size="3.3" stroke="#555" stroke-width="0.05" fill="#555" textLength="10.2" lengthAdjust="spacingAndGlyphs">Rps19</text>
<text x="88.9" y="473.4" font-size="3.3" stroke="#555" stroke-width="0.05" fill="#555" textLength="10.2" lengthAdjust="spacingAndGlyphs">Rpl26</text>
<text x="88.9" y="476.4" font-size="3.3" stroke="#555" stroke-width="0.05" fill="#555" textLength="10.2" lengthAdjust="spacingAndGlyphs">Rps28</text>
<text x="88.9" y="479.4" font-size="3.3" stroke="#555" stroke-width="0.05" fill="#555" textLength="10.2" lengthAdjust="spacingAndGlyphs">Rpl15</text>
<text x="88.9" y="482.4" font-size="3.3" stroke="#555" stroke-width="0.05" fill="#555" textLength="10.2" lengthAdjust="spacingAndGlyphs">Rps5</text>
<text x="88.9" y="485.4" font-size="3.3" stroke="#555" stroke-width="0.05" fill="#555" textLength="10.2" lengthAdjust="spacingAndGlyphs">Rpl11</text>
<text x="88.9" y="488.4" font-size="3.3" stroke="#555" stroke-width="0.05" fill="#555" textLength="10.2" lengthAdjust="spacingAndGlyphs">Rpl9</text>
<text x="88.9" y="491.4" font-size="3.3" stroke="#555" stroke-width="0.05" fill="#555" textLength="10.2" lengthAdjust="spacingAndGlyphs">Rps29</text>
<text x="88.9" y="494.4" font-size="3.3" stroke="#555" stroke-width="0.05" fill="#555" textLength="10.2" lengthAdjust="spacingAndGlyphs">Rpl34</text>
<text x="88.9" y="497.4" font-size="3.3" stroke="#555" stroke-width="0.05" fill="#555" textLength="10.2" lengthAdjust="spacingAndGlyphs">Rps17</text>
<text x="88.9" y="500.4" font-size="3.3" stroke="#555" stroke-width="0.05" fill="#555" textLength="10.2" lengthAdjust="spacingAndGlyphs">Rpl30</text>
<text x="88.9" y="503.4" font-size="3.3" stroke="#555" stroke-width="0.05" fill="#555" textLength="10.2" lengthAdjust="spacingAndGlyphs">Rps24</text>
<text x="88.9" y="506.4" font-size="3.3" stroke="#555" stroke-width="0.05" fill="#555" textLength="10.2" lengthAdjust="spacingAndGlyphs">Rpl19</text>
<text x="88.9" y="509.4" font-size="3.3" stroke="#555" stroke-width="0.05" fill="#555" textLength="10.2" lengthAdjust="spacingAndGlyphs">Rps10</text>
<text x="88.9" y="512.4" font-size="3.3" stroke="#555" stroke-width="0.05" fill="#555" textLength="10.2" lengthAdjust="spacingAndGlyphs">Rpl38</text>
<text x="88.9" y="515.4" font-size="3.3" stroke="#555" stroke-width="0.05" fill="#555" textLength="10.2" lengthAdjust="spacingAndGlyphs">Rps20</text>
<text x="88.9" y="518.4" font-size="3.3" stroke="#555" stroke-width="0.05" fill="#555" textLength="10.2" lengthAdjust="spacingAndGlyphs">Rpl3</text>
<text x="88.9" y="521.4" font-size="3.3" stroke="#555" stroke-width="0.05" fill="#555" textLength="10.2" lengthAdjust="spacingAndGlyphs">Rps6</text>
<text x="88.9" y="524.4" font-size="3.3" stroke="#555" stroke-width="0.05" fill="#555" textLength="10.2" lengthAdjust="spacingAndGlyphs">Rpl4</text>
<text x="88.9" y="527.4" font-size="3.3" stroke="#555" stroke-width="0.05" fill="#555" textLength="10.2" lengthAdjust="spacingAndGlyphs">Rps8</text>
<text x="88.9" y="530.4" font-size="3.3" stroke="#555" stroke-width="0.05" fill="#555" textLength="10.2" lengthAdjust="spacingAndGlyphs">Rpl5</text>
<text x="88.9" y="533.4" font-size="3.3" stroke="#555" stroke-width="0.05" fill="#555" textLength="10.2" lengthAdjust="spacingAndGlyphs">Rps12</text>
<text x="88.9" y="536.4" font-size="3.3" stroke="#555" stroke-width="0.05" fill="#555" textLength="10.2" lengthAdjust="spacingAndGlyphs">Rpl6</text>
<text x="88.9" y="539.4" font-size="3.3" stroke="#555" stroke-width="0.05" fill="#555" textLength="10.2" lengthAdjust="spacingAndGlyphs">Rps14</text>
<text x="88.9" y="542.4" font-size="3.3" stroke="#555" stroke-width="0.05" fill="#555" textLength="10.2" lengthAdjust="spacingAndGlyphs">Rpl8</text>
<text x="88.9" y="545.4" font-size="3.3" stroke="#555" stroke-width="0.05" fill="#555" textLength="10.2" lengthAdjust="spacingAndGlyphs">Rps18</text>
<text x="88.9" y="548.4" font-size="3.3" stroke="#555" stroke-width="0.05" fill="#555" textLength="10.2" lengthAdjust="spacingAndGlyphs">Rpl12</text>
<path d="M30.8 397.3 H28.5 V402 H30.8 M28.5 399.6 H26.5 V410 H28.5 V407 H30.8 M28.5 413 H30.8 M26.5 405 H24.5 V430 H27 V423 H30.8 M27 437 H30.8 M24.5 418 H23 V470 H25.5 V450 H30.8 M25.5 490 H30.8 M23 444 H21.8 V515 H24 V500 H30.8 M24 530 H30.8 M24 515 V545 H30.8" stroke="#9aa0a8" stroke-width="0.35" fill="none" opacity="0.8"/>
<rect x="101.6" y="466.3" width="2.6" height="14.4" fill="url(#leg)"/>
<text x="101.4" y="464.6" font-size="2.6" fill="#666">Legend</text>
<text x="105.3" y="468.5" font-size="2.4" fill="#666">1.5</text>
<text x="105.3" y="473.5" font-size="2.4" fill="#666">0</text>
<text x="105.3" y="478.5" font-size="2.4" fill="#666">-1.5</text>
<text x="38.1" y="554.5" font-size="5.4" stroke="#262626" stroke-width="0.16" text-anchor="middle" fill="#262626" textLength="9.8" lengthAdjust="spacingAndGlyphs">Veh.</text>
<text x="52.5" y="554.5" font-size="5.4" stroke="#262626" stroke-width="0.16" text-anchor="middle" fill="#262626" textLength="12.6" lengthAdjust="spacingAndGlyphs">Rapa.</text>
<text x="66.75" y="554.5" font-size="5.4" stroke="#262626" stroke-width="0.16" text-anchor="middle" fill="#262626" textLength="9.9" lengthAdjust="spacingAndGlyphs">Veh.</text>
<text x="82" y="554.5" font-size="5.4" stroke="#262626" stroke-width="0.16" text-anchor="middle" fill="#262626" textLength="13.2" lengthAdjust="spacingAndGlyphs">Rapa.</text>
<text x="45.5" y="561" font-size="5.4" stroke="#262626" stroke-width="0.16" text-anchor="middle" fill="#262626" textLength="8" lengthAdjust="spacingAndGlyphs">WT</text>
<text x="74.55" y="561" font-size="5.4" stroke="#262626" stroke-width="0.16" text-anchor="middle" fill="#262626" textLength="28.7" lengthAdjust="spacingAndGlyphs">CD99 Gt/Gt</text>
<text x="153.4" y="393.8" font-size="11.3" font-weight="bold" fill="#000">L</text>
<text x="207.3" y="407" font-size="8.1" stroke="#262626" stroke-width="0.22" text-anchor="middle" fill="#262626" textLength="80.8" lengthAdjust="spacingAndGlyphs">CD99 Gt/Gt Leukemias</text>
<text x="206.9" y="416.5" font-size="5.3" stroke="#262626" stroke-width="0.16" text-anchor="middle" fill="#262626" textLength="46.2" lengthAdjust="spacingAndGlyphs">KEGG_RIBOSOME</text>
<text x="209" y="498.8" font-size="8.1" stroke="#262626" stroke-width="0.22" text-anchor="middle" fill="#262626" textLength="49.6" lengthAdjust="spacingAndGlyphs">WT Leukemias</text>
<text x="209.8" y="509" font-size="5.3" stroke="#262626" stroke-width="0.16" text-anchor="middle" fill="#262626" textLength="46.2" lengthAdjust="spacingAndGlyphs">KEGG_RIBOSOME</text>
<line x1="162.4" y1="418.5" x2="162.4" y2="474.2" stroke="#cfcfcf" stroke-width="0.5"/>
<line x1="162.4" y1="418.5" x2="246.6" y2="418.5" stroke="#e6e6e6" stroke-width="0.5"/>
<line x1="246.6" y1="418.5" x2="246.6" y2="474.2" stroke="#e6e6e6" stroke-width="0.5"/>
<line x1="185.4" y1="457.1" x2="185.4" y2="470.8" stroke="#1a1a1a" stroke-width="0.8" opacity="0.5"/>
<line x1="191.4" y1="457.1" x2="191.4" y2="470.8" stroke="#1a1a1a" stroke-width="0.8" opacity="0.4"/>
<line x1="193.5" y1="457.1" x2="193.5" y2="470.8" stroke="#1a1a1a" stroke-width="0.8" opacity="0.4"/>
<line x1="195.9" y1="457.1" x2="195.9" y2="470.8" stroke="#1a1a1a" stroke-width="0.8" opacity="0.35"/>
<line x1="199.5" y1="457.1" x2="199.5" y2="470.8" stroke="#1a1a1a" stroke-width="0.8" opacity="0.6"/>
<line x1="201.3" y1="457.1" x2="201.3" y2="470.8" stroke="#1a1a1a" stroke-width="0.8" opacity="0.4"/>
<line x1="204.2" y1="457.1" x2="204.2" y2="470.8" stroke="#1a1a1a" stroke-width="0.8" opacity="0.3"/>
<line x1="206.2" y1="457.1" x2="206.2" y2="470.8" stroke="#1a1a1a" stroke-width="0.8" opacity="0.3"/>
<line x1="208.5" y1="457.1" x2="208.5" y2="470.8" stroke="#1a1a1a" stroke-width="0.8" opacity="0.85"/>
<line x1="210.7" y1="457.1" x2="210.7" y2="470.8" stroke="#1a1a1a" stroke-width="0.8" opacity="0.4"/>
<line x1="212.3" y1="457.1" x2="212.3" y2="470.8" stroke="#1a1a1a" stroke-width="0.8" opacity="0.3"/>
<line x1="215.3" y1="457.1" x2="215.3" y2="470.8" stroke="#1a1a1a" stroke-width="0.8" opacity="0.5"/>
<line x1="217.7" y1="457.1" x2="217.7" y2="470.8" stroke="#1a1a1a" stroke-width="0.8" opacity="0.7"/>
<line x1="219.3" y1="457.1" x2="219.3" y2="470.8" stroke="#1a1a1a" stroke-width="0.8" opacity="0.9"/>
<line x1="221" y1="457.1" x2="221" y2="470.8" stroke="#1a1a1a" stroke-width="0.8" opacity="0.7"/>
<line x1="223.7" y1="457.1" x2="223.7" y2="470.8" stroke="#1a1a1a" stroke-width="0.8" opacity="0.5"/>
<line x1="225.8" y1="457.1" x2="225.8" y2="470.8" stroke="#1a1a1a" stroke-width="0.8" opacity="0.9"/>
<line x1="227.4" y1="457.1" x2="227.4" y2="470.8" stroke="#1a1a1a" stroke-width="0.8" opacity="1.0"/>
<line x1="229.1" y1="457.1" x2="229.1" y2="470.8" stroke="#1a1a1a" stroke-width="0.8" opacity="0.8"/>
<line x1="230.9" y1="457.1" x2="230.9" y2="470.8" stroke="#1a1a1a" stroke-width="0.8" opacity="0.9"/>
<line x1="232.8" y1="457.1" x2="232.8" y2="470.8" stroke="#1a1a1a" stroke-width="0.8" opacity="0.8"/>
<line x1="234.5" y1="457.1" x2="234.5" y2="470.8" stroke="#1a1a1a" stroke-width="0.8" opacity="1.0"/>
<line x1="236.3" y1="457.1" x2="236.3" y2="470.8" stroke="#1a1a1a" stroke-width="0.8" opacity="0.9"/>
<line x1="238.1" y1="457.1" x2="238.1" y2="470.8" stroke="#1a1a1a" stroke-width="0.8" opacity="0.8"/>
<line x1="239.9" y1="457.1" x2="239.9" y2="470.8" stroke="#1a1a1a" stroke-width="0.8" opacity="0.9"/>
<line x1="241.9" y1="457.1" x2="241.9" y2="470.8" stroke="#1a1a1a" stroke-width="0.8" opacity="0.9"/>
<line x1="243.3" y1="457.1" x2="243.3" y2="470.8" stroke="#1a1a1a" stroke-width="0.8" opacity="0.6"/>
<line x1="245.7" y1="457.1" x2="245.7" y2="470.8" stroke="#1a1a1a" stroke-width="0.8" opacity="0.5"/>
<rect x="162.4" y="471" width="84.2" height="3.2" fill="url(#cbar)"/>
<path d="M162.4 421.1 L172 427.3 L184.2 435.3 L190.8 440.2 L200 443.8 L208 448.7 L218.6 454.4 L224.6 455.3 L228.4 451.1 L236 439.7 L240.4 430.4 L244.8 420.5 L246 419.3" stroke="#8cc63f" stroke-width="0.8" fill="none" stroke-linejoin="round"/>
<text x="202.2" y="426.1" font-size="5.6" stroke="#262626" stroke-width="0.16" fill="#262626" textLength="25.3" lengthAdjust="spacingAndGlyphs">NES −2.88</text>
<text x="202.2" y="432.4" font-size="5.6" stroke="#262626" stroke-width="0.16" fill="#262626" textLength="33.6" lengthAdjust="spacingAndGlyphs">FDR &lt; 0.0001</text>
<text x="162.7" y="481.8" font-size="5.6" stroke="#262626" stroke-width="0.16" fill="#262626" textLength="26.5" lengthAdjust="spacingAndGlyphs">Rapamycin</text>
<text x="251.7" y="481.8" font-size="5.6" stroke="#262626" stroke-width="0.16" text-anchor="end" fill="#262626" textLength="17" lengthAdjust="spacingAndGlyphs">Vehicle</text>
<line x1="162.4" y1="512.1" x2="162.4" y2="570.9" stroke="#cfcfcf" stroke-width="0.5"/>
<line x1="162.4" y1="512.1" x2="248.8" y2="512.1" stroke="#e6e6e6" stroke-width="0.5"/>
<line x1="248.8" y1="512.1" x2="248.8" y2="570.9" stroke="#e6e6e6" stroke-width="0.5"/>
<line x1="162.4" y1="542.3" x2="248.8" y2="542.3" stroke="#d8d8d8" stroke-width="0.4"/>
<line x1="168.8" y1="553.5" x2="168.8" y2="567.3" stroke="#1a1a1a" stroke-width="0.8" opacity="0.8"/>
<line x1="170.3" y1="553.5" x2="170.3" y2="567.3" stroke="#1a1a1a" stroke-width="0.8" opacity="0.9"/>
<line x1="171.5" y1="553.5" x2="171.5" y2="567.3" stroke="#1a1a1a" stroke-width="0.8" opacity="0.9"/>
<line x1="173.3" y1="553.5" x2="173.3" y2="567.3" stroke="#1a1a1a" stroke-width="0.8" opacity="0.7"/>
<line x1="175" y1="553.5" x2="175" y2="567.3" stroke="#1a1a1a" stroke-width="0.8" opacity="0.5"/>
<line x1="176.3" y1="553.5" x2="176.3" y2="567.3" stroke="#1a1a1a" stroke-width="0.8" opacity="0.7"/>
<line x1="178.6" y1="553.5" x2="178.6" y2="567.3" stroke="#1a1a1a" stroke-width="0.8" opacity="0.6"/>
<line x1="180.4" y1="553.5" x2="180.4" y2="567.3" stroke="#1a1a1a" stroke-width="0.8" opacity="0.5"/>
<line x1="182.7" y1="553.5" x2="182.7" y2="567.3" stroke="#1a1a1a" stroke-width="0.8" opacity="0.7"/>
<line x1="184.4" y1="553.5" x2="184.4" y2="567.3" stroke="#1a1a1a" stroke-width="0.8" opacity="0.7"/>
<line x1="185.7" y1="553.5" x2="185.7" y2="567.3" stroke="#1a1a1a" stroke-width="0.8" opacity="0.8"/>
<line x1="187.4" y1="553.5" x2="187.4" y2="567.3" stroke="#1a1a1a" stroke-width="0.8" opacity="0.6"/>
<line x1="188.7" y1="553.5" x2="188.7" y2="567.3" stroke="#1a1a1a" stroke-width="0.8" opacity="0.8"/>
<line x1="191.5" y1="553.5" x2="191.5" y2="567.3" stroke="#1a1a1a" stroke-width="0.8" opacity="0.5"/>
<line x1="193.3" y1="553.5" x2="193.3" y2="567.3" stroke="#1a1a1a" stroke-width="0.8" opacity="0.6"/>
<line x1="195" y1="553.5" x2="195" y2="567.3" stroke="#1a1a1a" stroke-width="0.8" opacity="0.6"/>
<line x1="201.1" y1="553.5" x2="201.1" y2="567.3" stroke="#1a1a1a" stroke-width="0.8" opacity="0.3"/>
<line x1="206.4" y1="553.5" x2="206.4" y2="567.3" stroke="#1a1a1a" stroke-width="0.8" opacity="0.6"/>
<line x1="208.1" y1="553.5" x2="208.1" y2="567.3" stroke="#1a1a1a" stroke-width="0.8" opacity="0.4"/>
<line x1="211.7" y1="553.5" x2="211.7" y2="567.3" stroke="#1a1a1a" stroke-width="0.8" opacity="0.7"/>
<line x1="213.1" y1="553.5" x2="213.1" y2="567.3" stroke="#1a1a1a" stroke-width="0.8" opacity="0.9"/>
<line x1="215.8" y1="553.5" x2="215.8" y2="567.3" stroke="#1a1a1a" stroke-width="0.8" opacity="0.6"/>
<line x1="220.2" y1="553.5" x2="220.2" y2="567.3" stroke="#1a1a1a" stroke-width="0.8" opacity="0.3"/>
<line x1="224.6" y1="553.5" x2="224.6" y2="567.3" stroke="#1a1a1a" stroke-width="0.8" opacity="0.5"/>
<line x1="226.9" y1="553.5" x2="226.9" y2="567.3" stroke="#1a1a1a" stroke-width="0.8" opacity="0.6"/>
<line x1="228.7" y1="553.5" x2="228.7" y2="567.3" stroke="#1a1a1a" stroke-width="0.8" opacity="0.7"/>
<line x1="229.9" y1="553.5" x2="229.9" y2="567.3" stroke="#1a1a1a" stroke-width="0.8" opacity="0.8"/>
<line x1="232.6" y1="553.5" x2="232.6" y2="567.3" stroke="#1a1a1a" stroke-width="0.8" opacity="0.5"/>
<line x1="234.3" y1="553.5" x2="234.3" y2="567.3" stroke="#1a1a1a" stroke-width="0.8" opacity="0.9"/>
<line x1="236.1" y1="553.5" x2="236.1" y2="567.3" stroke="#1a1a1a" stroke-width="0.8" opacity="0.6"/>
<line x1="237.9" y1="553.5" x2="237.9" y2="567.3" stroke="#1a1a1a" stroke-width="0.8" opacity="0.5"/>
<line x1="239.3" y1="553.5" x2="239.3" y2="567.3" stroke="#1a1a1a" stroke-width="0.8" opacity="0.9"/>
<line x1="241.1" y1="553.5" x2="241.1" y2="567.3" stroke="#1a1a1a" stroke-width="0.8" opacity="0.8"/>
<line x1="243.2" y1="553.5" x2="243.2" y2="567.3" stroke="#1a1a1a" stroke-width="0.8" opacity="0.8"/>
<line x1="245" y1="553.5" x2="245" y2="567.3" stroke="#1a1a1a" stroke-width="0.8" opacity="0.6"/>
<line x1="246.7" y1="553.5" x2="246.7" y2="567.3" stroke="#1a1a1a" stroke-width="0.8" opacity="0.7"/>
<rect x="162.4" y="567.9" width="86.4" height="3" fill="url(#cbar)"/>
<path d="M162.4 542 L165 544.5 L168 547.7 L170.5 536 L172.5 523 L174.2 517.5 L176 516.5 L178 517.2 L180 516 L183 516.8 L186 515.6 L189 516.5 L191 515.6 L193 516.6 L195.4 517.9 L200 521 L210 527.5 L220 535 L228 543 L233 549 L235.8 551.3 L239.6 551 L241.5 549.5 L243 545 L245.4 542.3 L248.8 541.3" stroke="#8cc63f" stroke-width="0.8" fill="none" stroke-linejoin="round"/>
<text x="221.5" y="519.1" font-size="5.6" stroke="#262626" stroke-width="0.16" fill="#262626" textLength="22.3" lengthAdjust="spacingAndGlyphs">NES 1.11</text>
<text x="221.5" y="525.4" font-size="5.6" stroke="#262626" stroke-width="0.16" fill="#262626" textLength="22" lengthAdjust="spacingAndGlyphs">FDR 0.37</text>
<text x="162.7" y="577.6" font-size="5.6" stroke="#262626" stroke-width="0.16" fill="#262626" textLength="26.5" lengthAdjust="spacingAndGlyphs">Rapamycin</text>
<text x="253.1" y="577.6" font-size="5.6" stroke="#262626" stroke-width="0.16" text-anchor="end" fill="#262626" textLength="17.3" lengthAdjust="spacingAndGlyphs">Vehicle</text>
<text x="285.4" y="309" font-size="10.2" font-weight="bold" fill="#000" textLength="10.1" lengthAdjust="spacingAndGlyphs">M</text>
<line x1="298" y1="318.5" x2="298" y2="413.7" stroke="#333" stroke-width="1.4"/>
<line x1="297.4" y1="413.1" x2="406.5" y2="413.1" stroke="#333" stroke-width="1.4"/>
<path d="M316.9 412.8 C318.05 411.7 321.78 409.32 323.8 406.2 C325.82 403.08 327.27 399 329 394.1 C330.73 389.2 332.75 381.98 334.2 376.8 C335.65 371.62 336.68 366.83 337.7 363 C338.72 359.17 339.15 357.83 340.3 353.8 C341.45 349.77 343.17 342.75 344.6 338.8 C346.03 334.85 347.03 332.27 348.9 330.1 C350.77 327.93 353.63 326.23 355.8 325.8 C357.97 325.37 359.73 325.63 361.9 327.5 C364.07 329.37 366.5 332.82 368.8 337 C371.1 341.18 373.38 346.53 375.7 352.6 C378.02 358.67 380.38 366.48 382.7 373.4 C385.02 380.32 387.58 387.53 389.6 394.1 C391.62 400.67 393.93 409.68 394.8 412.8" stroke="#2b5d8c" stroke-width="0.75" fill="none" />
<line x1="295.3" y1="437.1" x2="295.3" y2="532.2" stroke="#333" stroke-width="1.4"/>
<line x1="294.7" y1="531.6" x2="404.4" y2="531.6" stroke="#333" stroke-width="1.4"/>
<path d="M313.2 531.6 C314.42 530.4 318.38 528.02 320.5 524.4 C322.62 520.78 324.1 515.93 325.9 509.9 C327.7 503.87 329.5 495.43 331.3 488.2 C333.1 480.97 334.88 472.52 336.7 466.5 C338.52 460.48 340.38 455.65 342.2 452.1 C344.02 448.55 345.73 446.57 347.6 445.2 C349.47 443.83 351.3 443.6 353.4 443.9 C355.5 444.2 357.85 445.03 360.2 447 C362.55 448.97 365.45 452.45 367.5 455.7 C369.55 458.95 370.7 461.98 372.5 466.5 C374.3 471.02 376.13 476.17 378.3 482.8 C380.47 489.43 383.08 498.27 385.5 506.3 C387.92 514.33 391.58 526.88 392.8 531" stroke="#2b5d8c" stroke-width="0.75" fill="none" />
<path d="M354.1 324.1 L357.5 327.5 M357.5 324.1 L354.1 327.5" stroke="#1e4e80" stroke-width="1.5" fill="none" />
<path d="M338.6 352.1 L342 355.5 M342 352.1 L338.6 355.5" stroke="#1e4e80" stroke-width="1.5" fill="none" />
<path d="M351.7 442.3 L355.1 445.7 M355.1 442.3 L351.7 445.7" stroke="#1e4e80" stroke-width="1.5" fill="none" />
<path d="M370.8 464.8 L374.2 468.2 M374.2 464.8 L370.8 468.2" stroke="#1e4e80" stroke-width="1.5" fill="none" />
<text x="354.5" y="320.8" font-size="5.8" stroke="#262626" stroke-width="0.06" text-anchor="middle" fill="#262626" textLength="16.5" lengthAdjust="spacingAndGlyphs">WT LSC</text>
<text x="340.3" y="362.5" font-size="5.8" stroke="#262626" stroke-width="0.06" text-anchor="middle" fill="#262626" textLength="53.6" lengthAdjust="spacingAndGlyphs">WT LSC + Rapamycin</text>
<text x="354.5" y="439.4" font-size="5.8" stroke="#262626" stroke-width="0.06" text-anchor="middle" fill="#262626" textLength="51.9" lengthAdjust="spacingAndGlyphs">KO LSC + Rapamycin</text>
<text x="377.4" y="468.6" font-size="5.8" stroke="#262626" stroke-width="0.06" fill="#262626" textLength="18.6" lengthAdjust="spacingAndGlyphs">KO LSC</text>
<text x="352.5" y="423.4" font-size="6.6" stroke="#262626" stroke-width="0.06" text-anchor="middle" fill="#262626" textLength="57.1" lengthAdjust="spacingAndGlyphs">Protein synthesis rate</text>
<text x="350.1" y="541.8" font-size="6.6" stroke="#262626" stroke-width="0.06" text-anchor="middle" fill="#262626" textLength="57.8" lengthAdjust="spacingAndGlyphs">Protein synthesis rate</text>
<text x="293" y="365.4" font-size="6.6" stroke="#262626" stroke-width="0.06" text-anchor="middle" fill="#262626" textLength="35" lengthAdjust="spacingAndGlyphs" transform="rotate(-90 293 365.4)">Self-renewal</text>
<text x="290.4" y="484.2" font-size="6.6" stroke="#262626" stroke-width="0.06" text-anchor="middle" fill="#262626" textLength="35" lengthAdjust="spacingAndGlyphs" transform="rotate(-90 290.4 484.2)">Self-renewal</text>
<rect x="0.5" y="0.5" width="519" height="585" fill="none" stroke="#555" stroke-width="1"/>
</svg>
</body></html>
